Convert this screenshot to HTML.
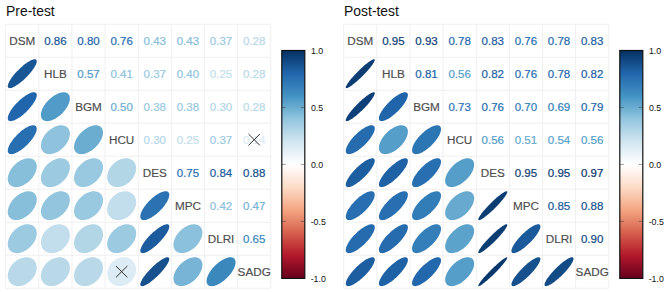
<!DOCTYPE html><html><head><meta charset="utf-8"><title>corrplot</title><style>html,body{margin:0;padding:0;background:#fff}body{width:669px;height:292px;overflow:hidden}svg{display:block}text{font-family:"Liberation Sans",sans-serif}</style></head><body>
<svg width="669" height="292" viewBox="0 0 669 292">
<rect width="100%" height="100%" fill="#fff"/>
<g>
<text x="6.10" y="15.50" font-size="13.90" fill="#111">Pre-test</text>
<line x1="5.70" y1="24.20" x2="5.70" y2="288.20" stroke="#f0f0f0" stroke-width="1"/>
<line x1="5.70" y1="24.20" x2="270.74" y2="24.20" stroke="#f0f0f0" stroke-width="1"/>
<line x1="38.83" y1="24.20" x2="38.83" y2="288.20" stroke="#f0f0f0" stroke-width="1"/>
<line x1="5.70" y1="57.20" x2="270.74" y2="57.20" stroke="#f0f0f0" stroke-width="1"/>
<line x1="71.96" y1="24.20" x2="71.96" y2="288.20" stroke="#f0f0f0" stroke-width="1"/>
<line x1="5.70" y1="90.20" x2="270.74" y2="90.20" stroke="#f0f0f0" stroke-width="1"/>
<line x1="105.09" y1="24.20" x2="105.09" y2="288.20" stroke="#f0f0f0" stroke-width="1"/>
<line x1="5.70" y1="123.20" x2="270.74" y2="123.20" stroke="#f0f0f0" stroke-width="1"/>
<line x1="138.22" y1="24.20" x2="138.22" y2="288.20" stroke="#f0f0f0" stroke-width="1"/>
<line x1="5.70" y1="156.20" x2="270.74" y2="156.20" stroke="#f0f0f0" stroke-width="1"/>
<line x1="171.35" y1="24.20" x2="171.35" y2="288.20" stroke="#f0f0f0" stroke-width="1"/>
<line x1="5.70" y1="189.20" x2="270.74" y2="189.20" stroke="#f0f0f0" stroke-width="1"/>
<line x1="204.48" y1="24.20" x2="204.48" y2="288.20" stroke="#f0f0f0" stroke-width="1"/>
<line x1="5.70" y1="222.20" x2="270.74" y2="222.20" stroke="#f0f0f0" stroke-width="1"/>
<line x1="237.61" y1="24.20" x2="237.61" y2="288.20" stroke="#f0f0f0" stroke-width="1"/>
<line x1="5.70" y1="255.20" x2="270.74" y2="255.20" stroke="#f0f0f0" stroke-width="1"/>
<line x1="270.74" y1="24.20" x2="270.74" y2="288.20" stroke="#f0f0f0" stroke-width="1"/>
<line x1="5.70" y1="288.20" x2="270.74" y2="288.20" stroke="#f0f0f0" stroke-width="1"/>
<text x="22.27" y="45.29" font-size="11.70" fill="#4d4d4d" stroke="#4d4d4d" stroke-width="0.15" text-anchor="middle">DSM</text>
<text x="55.40" y="78.29" font-size="11.70" fill="#4d4d4d" stroke="#4d4d4d" stroke-width="0.15" text-anchor="middle">HLB</text>
<text x="88.53" y="111.29" font-size="11.70" fill="#4d4d4d" stroke="#4d4d4d" stroke-width="0.15" text-anchor="middle">BGM</text>
<text x="121.66" y="144.29" font-size="11.70" fill="#4d4d4d" stroke="#4d4d4d" stroke-width="0.15" text-anchor="middle">HCU</text>
<text x="154.78" y="177.29" font-size="11.70" fill="#4d4d4d" stroke="#4d4d4d" stroke-width="0.15" text-anchor="middle">DES</text>
<text x="187.91" y="210.29" font-size="11.70" fill="#4d4d4d" stroke="#4d4d4d" stroke-width="0.15" text-anchor="middle">MPC</text>
<text x="221.05" y="243.29" font-size="11.70" fill="#4d4d4d" stroke="#4d4d4d" stroke-width="0.15" text-anchor="middle">DLRI</text>
<text x="254.18" y="276.29" font-size="11.70" fill="#4d4d4d" stroke="#4d4d4d" stroke-width="0.15" text-anchor="middle">SADG</text>
<text x="55.40" y="45.22" font-size="11.50" fill="#195696" stroke="#195696" stroke-width="0.22" text-anchor="middle">0.86</text>
<polygon points="36.24,59.78 35.86,59.50 35.36,59.33 34.77,59.26 34.09,59.31 33.31,59.47 32.45,59.73 31.52,60.10 30.51,60.58 29.44,61.15 28.31,61.82 27.14,62.59 25.93,63.43 24.70,64.35 23.44,65.35 22.18,66.41 20.92,67.52 19.66,68.68 18.43,69.88 17.23,71.11 16.06,72.36 14.94,73.61 13.88,74.87 12.88,76.12 11.95,77.35 11.11,78.56 10.34,79.72 9.67,80.84 9.09,81.91 8.62,82.91 8.24,83.85 7.98,84.70 7.82,85.48 7.77,86.16 7.83,86.75 8.01,87.24 8.29,87.62 8.67,87.90 9.17,88.07 9.76,88.14 10.44,88.09 11.22,87.93 12.08,87.67 13.01,87.30 14.02,86.82 15.09,86.25 16.22,85.58 17.39,84.81 18.60,83.97 19.83,83.05 21.09,82.05 22.35,80.99 23.61,79.88 24.87,78.72 26.10,77.52 27.30,76.29 28.47,75.04 29.59,73.79 30.65,72.53 31.65,71.28 32.58,70.05 33.42,68.84 34.19,67.68 34.86,66.56 35.44,65.49 35.91,64.49 36.29,63.55 36.55,62.70 36.71,61.92 36.76,61.24 36.70,60.65 36.52,60.16" fill="#195696"/>
<text x="88.53" y="45.22" font-size="11.50" fill="#2166ac" stroke="#2166ac" stroke-width="0.22" text-anchor="middle">0.80</text>
<polygon points="36.02,93.00 35.56,92.66 35.01,92.42 34.36,92.29 33.62,92.27 32.79,92.36 31.88,92.56 30.90,92.86 29.85,93.27 28.75,93.79 27.59,94.40 26.40,95.10 25.17,95.90 23.92,96.77 22.66,97.73 21.40,98.75 20.14,99.83 18.90,100.96 17.68,102.13 16.50,103.35 15.36,104.58 14.28,105.83 13.25,107.09 12.30,108.35 11.42,109.59 10.62,110.82 9.92,112.01 9.30,113.16 8.79,114.26 8.37,115.30 8.06,116.28 7.87,117.18 7.78,118.01 7.80,118.75 7.93,119.40 8.17,119.95 8.51,120.40 8.97,120.74 9.52,120.98 10.17,121.11 10.91,121.13 11.74,121.04 12.65,120.84 13.63,120.54 14.68,120.13 15.78,119.61 16.94,119.00 18.13,118.30 19.36,117.50 20.61,116.63 21.87,115.67 23.13,114.65 24.39,113.57 25.63,112.44 26.85,111.27 28.03,110.05 29.17,108.82 30.25,107.57 31.28,106.31 32.23,105.05 33.11,103.81 33.91,102.58 34.61,101.39 35.23,100.24 35.74,99.14 36.16,98.10 36.47,97.12 36.66,96.22 36.75,95.39 36.73,94.65 36.60,94.00 36.36,93.45" fill="#2166ac"/>
<text x="121.66" y="45.22" font-size="11.50" fill="#286fb1" stroke="#286fb1" stroke-width="0.22" text-anchor="middle">0.76</text>
<polygon points="35.86,126.16 35.37,125.77 34.78,125.49 34.10,125.32 33.32,125.26 32.47,125.31 31.53,125.47 30.52,125.74 29.45,126.11 28.33,126.59 27.16,127.16 25.95,127.83 24.72,128.60 23.46,129.44 22.20,130.37 20.93,131.36 19.68,132.42 18.45,133.54 17.24,134.70 16.08,135.90 14.96,137.13 13.90,138.37 12.90,139.63 11.97,140.89 11.12,142.14 10.35,143.37 9.68,144.57 9.10,145.74 8.62,146.86 8.25,147.93 7.98,148.93 7.82,149.86 7.77,150.72 7.83,151.49 8.00,152.17 8.28,152.76 8.67,153.24 9.16,153.63 9.75,153.91 10.43,154.08 11.21,154.14 12.06,154.09 13.00,153.93 14.01,153.66 15.08,153.29 16.20,152.81 17.37,152.24 18.58,151.57 19.81,150.80 21.07,149.96 22.33,149.03 23.60,148.04 24.85,146.98 26.08,145.86 27.29,144.70 28.45,143.50 29.57,142.27 30.63,141.03 31.63,139.77 32.56,138.51 33.41,137.26 34.18,136.03 34.85,134.83 35.43,133.66 35.91,132.54 36.28,131.47 36.55,130.47 36.71,129.54 36.76,128.68 36.70,127.91 36.53,127.23 36.25,126.64" fill="#286fb1"/>
<text x="154.78" y="45.22" font-size="11.50" fill="#87beda" stroke="#87beda" stroke-width="0.22" text-anchor="middle">0.43</text>
<polygon points="34.52,160.49 33.80,159.87 32.99,159.34 32.10,158.91 31.14,158.59 30.10,158.38 29.01,158.27 27.87,158.28 26.68,158.39 25.46,158.62 24.22,158.95 22.96,159.38 21.69,159.92 20.43,160.56 19.19,161.28 17.96,162.10 16.77,162.99 15.62,163.96 14.53,164.99 13.49,166.09 12.52,167.23 11.62,168.41 10.80,169.63 10.07,170.87 9.44,172.13 8.90,173.39 8.46,174.64 8.13,175.88 7.90,177.10 7.79,178.28 7.78,179.42 7.89,180.51 8.10,181.54 8.42,182.50 8.85,183.38 9.38,184.19 10.01,184.91 10.73,185.53 11.54,186.06 12.43,186.49 13.39,186.81 14.43,187.02 15.52,187.13 16.66,187.12 17.85,187.01 19.07,186.78 20.31,186.45 21.57,186.02 22.84,185.48 24.10,184.84 25.34,184.12 26.57,183.30 27.76,182.41 28.91,181.44 30.00,180.41 31.04,179.31 32.01,178.17 32.91,176.99 33.73,175.77 34.46,174.53 35.09,173.27 35.63,172.01 36.07,170.76 36.40,169.52 36.63,168.30 36.74,167.12 36.75,165.98 36.64,164.89 36.43,163.86 36.11,162.90 35.68,162.02 35.15,161.21" fill="#87beda"/>
<text x="187.91" y="45.22" font-size="11.50" fill="#87beda" stroke="#87beda" stroke-width="0.22" text-anchor="middle">0.43</text>
<polygon points="34.52,193.49 33.80,192.87 32.99,192.34 32.10,191.91 31.14,191.59 30.10,191.38 29.01,191.27 27.87,191.28 26.68,191.39 25.46,191.62 24.22,191.95 22.96,192.38 21.69,192.92 20.43,193.56 19.19,194.28 17.96,195.10 16.77,195.99 15.62,196.96 14.53,197.99 13.49,199.09 12.52,200.23 11.62,201.41 10.80,202.63 10.07,203.87 9.44,205.13 8.90,206.39 8.46,207.64 8.13,208.88 7.90,210.10 7.79,211.28 7.78,212.42 7.89,213.51 8.10,214.54 8.42,215.50 8.85,216.38 9.38,217.19 10.01,217.91 10.73,218.53 11.54,219.06 12.43,219.49 13.39,219.81 14.43,220.02 15.52,220.13 16.66,220.12 17.85,220.01 19.07,219.78 20.31,219.45 21.57,219.02 22.84,218.48 24.10,217.84 25.34,217.12 26.57,216.30 27.76,215.41 28.91,214.44 30.00,213.41 31.04,212.31 32.01,211.17 32.91,209.99 33.73,208.77 34.46,207.53 35.09,206.27 35.63,205.01 36.07,203.76 36.40,202.52 36.63,201.30 36.74,200.12 36.75,198.98 36.64,197.89 36.43,196.86 36.11,195.90 35.68,195.02 35.15,194.21" fill="#87beda"/>
<text x="221.05" y="45.22" font-size="11.50" fill="#9ccae1" stroke="#9ccae1" stroke-width="0.22" text-anchor="middle">0.37</text>
<polygon points="34.26,226.75 33.51,226.09 32.67,225.53 31.75,225.06 30.76,224.70 29.70,224.45 28.59,224.30 27.43,224.26 26.23,224.34 25.00,224.52 23.74,224.81 22.48,225.21 21.22,225.71 19.96,226.31 18.72,227.00 17.51,227.78 16.34,228.65 15.21,229.59 14.13,230.60 13.12,231.67 12.17,232.80 11.30,233.97 10.52,235.17 9.82,236.41 9.22,237.66 8.72,238.92 8.32,240.17 8.03,241.42 7.85,242.65 7.77,243.84 7.81,245.00 7.95,246.11 8.21,247.16 8.57,248.14 9.04,249.06 9.61,249.90 10.27,250.65 11.02,251.31 11.86,251.87 12.78,252.34 13.77,252.70 14.83,252.95 15.94,253.10 17.10,253.14 18.30,253.06 19.53,252.88 20.79,252.59 22.05,252.19 23.31,251.69 24.57,251.09 25.81,250.40 27.02,249.62 28.19,248.75 29.32,247.81 30.40,246.80 31.41,245.73 32.36,244.60 33.23,243.43 34.01,242.23 34.71,240.99 35.31,239.74 35.81,238.48 36.21,237.23 36.50,235.98 36.68,234.75 36.76,233.56 36.72,232.40 36.58,231.29 36.32,230.24 35.96,229.26 35.49,228.34 34.92,227.50" fill="#9ccae1"/>
<text x="254.18" y="45.22" font-size="11.50" fill="#b9d9e9" stroke="#b9d9e9" stroke-width="0.22" text-anchor="middle">0.28</text>
<polygon points="33.86,260.15 33.06,259.44 32.17,258.82 31.21,258.30 30.19,257.88 29.10,257.57 27.96,257.37 26.78,257.27 25.56,257.28 24.31,257.41 23.06,257.64 21.79,257.98 20.53,258.42 19.28,258.97 18.06,259.61 16.87,260.34 15.71,261.16 14.61,262.06 13.57,263.04 12.59,264.08 11.69,265.17 10.86,266.32 10.13,267.51 9.48,268.73 8.94,269.97 8.49,271.23 8.15,272.49 7.92,273.74 7.79,274.98 7.78,276.19 7.87,277.37 8.08,278.51 8.39,279.59 8.81,280.61 9.34,281.57 9.96,282.45 10.67,283.25 11.47,283.96 12.36,284.58 13.32,285.10 14.34,285.52 15.43,285.83 16.57,286.03 17.75,286.13 18.97,286.12 20.22,285.99 21.47,285.76 22.74,285.42 24.00,284.98 25.25,284.43 26.47,283.79 27.66,283.06 28.82,282.24 29.92,281.34 30.96,280.36 31.94,279.32 32.84,278.23 33.67,277.08 34.40,275.89 35.05,274.67 35.59,273.43 36.04,272.17 36.38,270.91 36.61,269.66 36.74,268.42 36.75,267.21 36.66,266.03 36.45,264.89 36.14,263.81 35.72,262.79 35.19,261.83 34.57,260.95" fill="#b9d9e9"/>
<text x="88.53" y="78.22" font-size="11.50" fill="#509bc7" stroke="#509bc7" stroke-width="0.22" text-anchor="middle">0.57</text>
<polygon points="68.24,93.91 67.60,93.37 66.87,92.94 66.06,92.61 65.16,92.39 64.19,92.28 63.16,92.27 62.06,92.38 60.91,92.60 59.72,92.92 58.50,93.35 57.26,93.88 56.00,94.51 54.73,95.23 53.47,96.03 52.23,96.92 51.01,97.89 49.82,98.92 48.67,100.01 47.58,101.15 46.55,102.33 45.58,103.54 44.69,104.78 43.88,106.04 43.15,107.30 42.52,108.55 41.99,109.79 41.56,111.01 41.24,112.20 41.02,113.34 40.91,114.43 40.92,115.46 41.03,116.43 41.25,117.32 41.58,118.13 42.02,118.86 42.55,119.49 43.19,120.03 43.92,120.46 44.73,120.79 45.63,121.01 46.60,121.12 47.63,121.13 48.73,121.02 49.88,120.80 51.07,120.48 52.29,120.05 53.53,119.52 54.79,118.89 56.06,118.17 57.32,117.37 58.56,116.48 59.78,115.51 60.97,114.48 62.12,113.39 63.21,112.25 64.24,111.07 65.21,109.86 66.10,108.62 66.91,107.36 67.64,106.10 68.27,104.85 68.80,103.61 69.23,102.39 69.55,101.20 69.77,100.06 69.88,98.97 69.87,97.94 69.76,96.97 69.54,96.08 69.21,95.27 68.77,94.54" fill="#509bc7"/>
<text x="121.66" y="78.22" font-size="11.50" fill="#8fc3dd" stroke="#8fc3dd" stroke-width="0.22" text-anchor="middle">0.41</text>
<polygon points="67.57,127.58 66.83,126.94 66.01,126.40 65.11,125.96 64.14,125.63 63.10,125.40 62.00,125.28 60.85,125.27 59.66,125.37 58.43,125.58 57.19,125.90 55.93,126.32 54.66,126.85 53.40,127.47 52.16,128.19 50.94,128.99 49.76,129.87 48.61,130.83 47.52,131.86 46.49,132.94 45.53,134.08 44.64,135.26 43.83,136.48 43.12,137.72 42.49,138.97 41.97,140.23 41.54,141.49 41.22,142.73 41.01,143.95 40.91,145.13 40.92,146.28 41.04,147.37 41.27,148.41 41.60,149.38 42.04,150.28 42.59,151.09 43.22,151.82 43.96,152.46 44.78,153.00 45.68,153.44 46.65,153.77 47.69,154.00 48.79,154.12 49.94,154.13 51.13,154.03 52.36,153.82 53.60,153.50 54.86,153.08 56.13,152.55 57.39,151.93 58.63,151.21 59.85,150.41 61.03,149.53 62.18,148.57 63.27,147.54 64.30,146.46 65.26,145.32 66.15,144.14 66.96,142.92 67.67,141.68 68.30,140.43 68.82,139.17 69.25,137.91 69.57,136.67 69.78,135.45 69.88,134.27 69.87,133.12 69.75,132.03 69.52,130.99 69.19,130.02 68.75,129.12 68.20,128.31" fill="#8fc3dd"/>
<text x="154.78" y="78.22" font-size="11.50" fill="#9ccae1" stroke="#9ccae1" stroke-width="0.22" text-anchor="middle">0.37</text>
<polygon points="67.39,160.75 66.64,160.09 65.80,159.53 64.88,159.06 63.89,158.70 62.83,158.45 61.72,158.30 60.56,158.26 59.36,158.34 58.13,158.52 56.87,158.81 55.61,159.21 54.35,159.71 53.09,160.31 51.85,161.00 50.64,161.78 49.47,162.65 48.34,163.59 47.26,164.60 46.25,165.67 45.30,166.80 44.43,167.97 43.65,169.17 42.95,170.41 42.35,171.66 41.85,172.92 41.45,174.17 41.16,175.42 40.98,176.65 40.90,177.84 40.94,179.00 41.08,180.11 41.34,181.16 41.70,182.14 42.17,183.06 42.74,183.90 43.40,184.65 44.15,185.31 44.99,185.87 45.91,186.34 46.90,186.70 47.96,186.95 49.07,187.10 50.23,187.14 51.43,187.06 52.66,186.88 53.92,186.59 55.18,186.19 56.44,185.69 57.70,185.09 58.94,184.40 60.15,183.62 61.32,182.75 62.45,181.81 63.53,180.80 64.54,179.73 65.49,178.60 66.36,177.43 67.14,176.23 67.84,174.99 68.44,173.74 68.94,172.48 69.34,171.23 69.63,169.98 69.81,168.75 69.89,167.56 69.85,166.40 69.71,165.29 69.45,164.24 69.09,163.26 68.62,162.34 68.05,161.50" fill="#9ccae1"/>
<text x="187.91" y="78.22" font-size="11.50" fill="#93c5de" stroke="#93c5de" stroke-width="0.22" text-anchor="middle">0.40</text>
<polygon points="67.52,193.62 66.78,192.98 65.96,192.43 65.05,191.99 64.08,191.64 63.03,191.41 61.93,191.29 60.78,191.27 59.58,191.36 58.36,191.57 57.11,191.88 55.85,192.29 54.58,192.81 53.32,193.43 52.08,194.14 50.87,194.94 49.68,195.81 48.54,196.77 47.46,197.79 46.43,198.88 45.47,200.01 44.59,201.19 43.79,202.40 43.07,203.64 42.46,204.89 41.94,206.15 41.52,207.41 41.21,208.65 41.00,209.87 40.91,211.06 40.92,212.21 41.05,213.31 41.28,214.35 41.63,215.32 42.07,216.22 42.62,217.04 43.27,217.78 44.01,218.42 44.83,218.97 45.74,219.41 46.71,219.76 47.76,219.99 48.86,220.11 50.01,220.13 51.21,220.04 52.43,219.83 53.68,219.52 54.94,219.11 56.21,218.59 57.47,217.97 58.71,217.26 59.92,216.46 61.11,215.59 62.25,214.63 63.33,213.61 64.36,212.52 65.32,211.39 66.20,210.21 67.00,209.00 67.72,207.76 68.33,206.51 68.85,205.25 69.27,203.99 69.58,202.75 69.79,201.53 69.88,200.34 69.87,199.19 69.74,198.09 69.51,197.05 69.16,196.08 68.72,195.18 68.17,194.36" fill="#93c5de"/>
<text x="221.05" y="78.22" font-size="11.50" fill="#c2deec" stroke="#c2deec" stroke-width="0.22" text-anchor="middle">0.25</text>
<polygon points="66.85,227.29 66.04,226.56 65.14,225.92 64.17,225.39 63.13,224.95 62.03,224.62 60.88,224.39 59.69,224.28 58.47,224.27 57.22,224.38 55.96,224.59 54.70,224.91 53.44,225.34 52.19,225.86 50.97,226.49 49.79,227.21 48.64,228.01 47.55,228.90 46.52,229.86 45.55,230.89 44.66,231.98 43.86,233.11 43.14,234.30 42.51,235.51 41.98,236.75 41.55,238.00 41.23,239.26 41.02,240.52 40.91,241.76 40.92,242.98 41.03,244.16 41.26,245.31 41.59,246.40 42.03,247.44 42.57,248.41 43.21,249.30 43.94,250.11 44.75,250.84 45.65,251.48 46.62,252.01 47.66,252.45 48.76,252.78 49.91,253.01 51.10,253.12 52.32,253.13 53.57,253.02 54.83,252.81 56.09,252.49 57.35,252.06 58.60,251.54 59.82,250.91 61.00,250.19 62.15,249.39 63.24,248.50 64.27,247.54 65.24,246.51 66.13,245.42 66.93,244.29 67.65,243.10 68.28,241.89 68.81,240.65 69.24,239.40 69.56,238.14 69.77,236.88 69.88,235.64 69.87,234.42 69.76,233.24 69.53,232.09 69.20,231.00 68.76,229.96 68.22,228.99 67.58,228.10" fill="#c2deec"/>
<text x="254.18" y="78.22" font-size="11.50" fill="#b9d9e9" stroke="#b9d9e9" stroke-width="0.22" text-anchor="middle">0.28</text>
<polygon points="66.99,260.15 66.19,259.44 65.30,258.82 64.34,258.30 63.32,257.88 62.23,257.57 61.09,257.37 59.91,257.27 58.69,257.28 57.44,257.41 56.19,257.64 54.92,257.98 53.66,258.42 52.41,258.97 51.19,259.61 50.00,260.34 48.84,261.16 47.74,262.06 46.70,263.04 45.72,264.08 44.82,265.17 43.99,266.32 43.26,267.51 42.61,268.73 42.07,269.97 41.62,271.23 41.28,272.49 41.05,273.74 40.92,274.98 40.91,276.19 41.00,277.37 41.21,278.51 41.52,279.59 41.94,280.61 42.47,281.57 43.09,282.45 43.80,283.25 44.60,283.96 45.49,284.58 46.45,285.10 47.47,285.52 48.56,285.83 49.70,286.03 50.88,286.13 52.10,286.12 53.35,285.99 54.60,285.76 55.87,285.42 57.13,284.98 58.38,284.43 59.60,283.79 60.79,283.06 61.95,282.24 63.05,281.34 64.09,280.36 65.07,279.32 65.97,278.23 66.80,277.08 67.53,275.89 68.18,274.67 68.72,273.43 69.17,272.17 69.51,270.91 69.74,269.66 69.87,268.42 69.88,267.21 69.79,266.03 69.58,264.89 69.27,263.81 68.85,262.79 68.32,261.83 67.70,260.95" fill="#b9d9e9"/>
<text x="121.66" y="111.22" font-size="11.50" fill="#6badd1" stroke="#6badd1" stroke-width="0.22" text-anchor="middle">0.50</text>
<polygon points="101.08,127.20 100.40,126.62 99.63,126.13 98.77,125.75 97.84,125.48 96.84,125.32 95.77,125.26 94.65,125.32 93.48,125.48 92.28,125.75 91.04,126.13 89.79,126.62 88.53,127.20 87.26,127.87 86.01,128.64 84.77,129.49 83.57,130.42 82.40,131.42 81.28,132.48 80.21,133.60 79.21,134.76 78.28,135.96 77.42,137.19 76.65,138.44 75.97,139.70 75.39,140.96 74.90,142.21 74.52,143.44 74.25,144.64 74.09,145.80 74.03,146.92 74.09,147.98 74.25,148.98 74.52,149.91 74.90,150.76 75.39,151.53 75.97,152.20 76.65,152.78 77.42,153.27 78.28,153.65 79.21,153.92 80.21,154.08 81.28,154.14 82.40,154.08 83.57,153.92 84.77,153.65 86.01,153.27 87.26,152.78 88.53,152.20 89.79,151.53 91.04,150.76 92.28,149.91 93.48,148.98 94.65,147.98 95.77,146.92 96.84,145.80 97.84,144.64 98.77,143.44 99.63,142.21 100.40,140.96 101.08,139.70 101.66,138.44 102.15,137.19 102.53,135.96 102.80,134.76 102.96,133.60 103.02,132.48 102.96,131.42 102.80,130.42 102.53,129.49 102.15,128.64 101.66,127.87" fill="#6badd1"/>
<text x="154.78" y="111.22" font-size="11.50" fill="#99c9e0" stroke="#99c9e0" stroke-width="0.22" text-anchor="middle">0.38</text>
<polygon points="100.56,160.71 99.82,160.05 98.98,159.49 98.07,159.04 97.08,158.68 96.03,158.43 94.92,158.29 93.76,158.27 92.56,158.35 91.33,158.54 90.08,158.83 88.82,159.24 87.56,159.74 86.30,160.35 85.06,161.04 83.85,161.83 82.67,162.70 81.53,163.65 80.45,164.66 79.44,165.74 78.49,166.87 77.61,168.04 76.82,169.25 76.12,170.48 75.52,171.73 75.01,172.99 74.60,174.25 74.31,175.50 74.11,176.72 74.03,177.91 74.06,179.07 74.20,180.17 74.45,181.22 74.81,182.20 75.27,183.11 75.83,183.95 76.49,184.69 77.23,185.35 78.07,185.91 78.98,186.36 79.97,186.72 81.02,186.97 82.13,187.11 83.29,187.13 84.49,187.05 85.72,186.86 86.97,186.57 88.23,186.16 89.49,185.66 90.75,185.05 91.99,184.36 93.20,183.57 94.38,182.70 95.52,181.75 96.60,180.74 97.61,179.66 98.56,178.53 99.44,177.36 100.23,176.15 100.93,174.92 101.53,173.67 102.04,172.41 102.45,171.15 102.74,169.90 102.94,168.68 103.02,167.49 102.99,166.33 102.85,165.23 102.60,164.18 102.24,163.20 101.78,162.29 101.22,161.45" fill="#99c9e0"/>
<text x="187.91" y="111.22" font-size="11.50" fill="#99c9e0" stroke="#99c9e0" stroke-width="0.22" text-anchor="middle">0.38</text>
<polygon points="100.56,193.71 99.82,193.05 98.98,192.49 98.07,192.04 97.08,191.68 96.03,191.43 94.92,191.29 93.76,191.27 92.56,191.35 91.33,191.54 90.08,191.83 88.82,192.24 87.56,192.74 86.30,193.35 85.06,194.04 83.85,194.83 82.67,195.70 81.53,196.65 80.45,197.66 79.44,198.74 78.49,199.87 77.61,201.04 76.82,202.25 76.12,203.48 75.52,204.73 75.01,205.99 74.60,207.25 74.31,208.50 74.11,209.72 74.03,210.91 74.06,212.07 74.20,213.17 74.45,214.22 74.81,215.20 75.27,216.11 75.83,216.95 76.49,217.69 77.23,218.35 78.07,218.91 78.98,219.36 79.97,219.72 81.02,219.97 82.13,220.11 83.29,220.13 84.49,220.05 85.72,219.86 86.97,219.57 88.23,219.16 89.49,218.66 90.75,218.05 91.99,217.36 93.20,216.57 94.38,215.70 95.52,214.75 96.60,213.74 97.61,212.66 98.56,211.53 99.44,210.36 100.23,209.15 100.93,207.92 101.53,206.67 102.04,205.41 102.45,204.15 102.74,202.90 102.94,201.68 103.02,200.49 102.99,199.33 102.85,198.23 102.60,197.18 102.24,196.20 101.78,195.29 101.22,194.45" fill="#99c9e0"/>
<text x="221.05" y="111.22" font-size="11.50" fill="#b3d6e7" stroke="#b3d6e7" stroke-width="0.22" text-anchor="middle">0.30</text>
<polygon points="100.21,227.06 99.42,226.36 98.54,225.75 97.59,225.25 96.57,224.84 95.49,224.54 94.36,224.35 93.18,224.27 91.96,224.29 90.72,224.43 89.47,224.67 88.20,225.03 86.94,225.48 85.69,226.04 84.46,226.69 83.27,227.44 82.11,228.27 81.00,229.18 79.95,230.16 78.96,231.21 78.05,232.31 77.22,233.46 76.47,234.65 75.81,235.88 75.26,237.12 74.80,238.38 74.44,239.64 74.20,240.89 74.06,242.13 74.03,243.34 74.12,244.51 74.31,245.64 74.61,246.72 75.02,247.73 75.53,248.68 76.14,249.55 76.84,250.34 77.63,251.04 78.51,251.65 79.46,252.15 80.48,252.56 81.56,252.86 82.69,253.05 83.87,253.13 85.09,253.11 86.33,252.97 87.58,252.73 88.85,252.37 90.11,251.92 91.36,251.36 92.59,250.71 93.78,249.96 94.94,249.13 96.05,248.22 97.10,247.24 98.09,246.19 99.00,245.09 99.83,243.94 100.58,242.75 101.24,241.52 101.79,240.28 102.25,239.02 102.61,237.76 102.85,236.51 102.99,235.27 103.02,234.06 102.93,232.89 102.74,231.76 102.44,230.68 102.03,229.67 101.52,228.72 100.91,227.85" fill="#b3d6e7"/>
<text x="254.18" y="111.22" font-size="11.50" fill="#b9d9e9" stroke="#b9d9e9" stroke-width="0.22" text-anchor="middle">0.28</text>
<polygon points="100.12,260.15 99.32,259.44 98.43,258.82 97.47,258.30 96.45,257.88 95.36,257.57 94.22,257.37 93.04,257.27 91.82,257.28 90.57,257.41 89.32,257.64 88.05,257.98 86.79,258.42 85.54,258.97 84.32,259.61 83.13,260.34 81.97,261.16 80.87,262.06 79.83,263.04 78.85,264.08 77.95,265.17 77.12,266.32 76.39,267.51 75.74,268.73 75.20,269.97 74.75,271.23 74.41,272.49 74.18,273.74 74.05,274.98 74.04,276.19 74.13,277.37 74.34,278.51 74.65,279.59 75.07,280.61 75.60,281.57 76.22,282.45 76.93,283.25 77.73,283.96 78.62,284.58 79.58,285.10 80.60,285.52 81.69,285.83 82.83,286.03 84.01,286.13 85.23,286.12 86.48,285.99 87.73,285.76 89.00,285.42 90.26,284.98 91.51,284.43 92.73,283.79 93.92,283.06 95.08,282.24 96.18,281.34 97.22,280.36 98.20,279.32 99.10,278.23 99.93,277.08 100.66,275.89 101.31,274.67 101.85,273.43 102.30,272.17 102.64,270.91 102.87,269.66 103.00,268.42 103.01,267.21 102.92,266.03 102.71,264.89 102.40,263.81 101.98,262.79 101.45,261.83 100.83,260.95" fill="#b9d9e9"/>
<text x="154.78" y="144.22" font-size="11.50" fill="#b3d6e7" stroke="#b3d6e7" stroke-width="0.22" text-anchor="middle">0.30</text>
<polygon points="133.34,161.06 132.55,160.36 131.67,159.75 130.72,159.25 129.70,158.84 128.62,158.54 127.49,158.35 126.31,158.27 125.09,158.29 123.85,158.43 122.60,158.67 121.33,159.03 120.07,159.48 118.82,160.04 117.59,160.69 116.40,161.44 115.24,162.27 114.13,163.18 113.08,164.16 112.09,165.21 111.18,166.31 110.35,167.46 109.60,168.65 108.94,169.88 108.39,171.12 107.93,172.38 107.57,173.64 107.33,174.89 107.19,176.13 107.16,177.34 107.25,178.51 107.44,179.64 107.74,180.72 108.15,181.73 108.66,182.68 109.27,183.55 109.97,184.34 110.76,185.04 111.64,185.65 112.59,186.15 113.61,186.56 114.69,186.86 115.82,187.05 117.00,187.13 118.22,187.11 119.46,186.97 120.71,186.73 121.98,186.37 123.24,185.92 124.49,185.36 125.72,184.71 126.91,183.96 128.07,183.13 129.18,182.22 130.23,181.24 131.22,180.19 132.13,179.09 132.96,177.94 133.71,176.75 134.37,175.52 134.92,174.28 135.38,173.02 135.74,171.76 135.98,170.51 136.12,169.27 136.15,168.06 136.06,166.89 135.87,165.76 135.57,164.68 135.16,163.67 134.65,162.72 134.04,161.85" fill="#b3d6e7"/>
<text x="187.91" y="144.22" font-size="11.50" fill="#c2deec" stroke="#c2deec" stroke-width="0.22" text-anchor="middle">0.25</text>
<polygon points="133.11,194.29 132.30,193.56 131.40,192.92 130.43,192.39 129.39,191.95 128.29,191.62 127.14,191.39 125.95,191.28 124.73,191.27 123.48,191.38 122.22,191.59 120.96,191.91 119.70,192.34 118.45,192.86 117.23,193.49 116.05,194.21 114.90,195.01 113.81,195.90 112.78,196.86 111.81,197.89 110.92,198.98 110.12,200.11 109.40,201.30 108.77,202.51 108.24,203.75 107.81,205.00 107.49,206.26 107.28,207.52 107.17,208.76 107.18,209.98 107.29,211.16 107.52,212.31 107.85,213.40 108.29,214.44 108.83,215.41 109.47,216.30 110.20,217.11 111.01,217.84 111.91,218.48 112.88,219.01 113.92,219.45 115.02,219.78 116.17,220.01 117.36,220.12 118.58,220.13 119.83,220.02 121.09,219.81 122.35,219.49 123.61,219.06 124.86,218.54 126.08,217.91 127.26,217.19 128.41,216.39 129.50,215.50 130.53,214.54 131.50,213.51 132.39,212.42 133.19,211.29 133.91,210.10 134.54,208.89 135.07,207.65 135.50,206.40 135.82,205.14 136.03,203.88 136.14,202.64 136.13,201.42 136.02,200.24 135.79,199.09 135.46,198.00 135.02,196.96 134.48,195.99 133.84,195.10" fill="#c2deec"/>
<text x="221.05" y="144.22" font-size="11.50" fill="#9ccae1" stroke="#9ccae1" stroke-width="0.22" text-anchor="middle">0.37</text>
<polygon points="133.65,226.75 132.90,226.09 132.06,225.53 131.14,225.06 130.15,224.70 129.09,224.45 127.98,224.30 126.82,224.26 125.62,224.34 124.39,224.52 123.13,224.81 121.87,225.21 120.61,225.71 119.35,226.31 118.11,227.00 116.90,227.78 115.73,228.65 114.60,229.59 113.52,230.60 112.51,231.67 111.56,232.80 110.69,233.97 109.91,235.17 109.21,236.41 108.61,237.66 108.11,238.92 107.71,240.17 107.42,241.42 107.24,242.65 107.16,243.84 107.20,245.00 107.34,246.11 107.60,247.16 107.96,248.14 108.43,249.06 109.00,249.90 109.66,250.65 110.41,251.31 111.25,251.87 112.17,252.34 113.16,252.70 114.22,252.95 115.33,253.10 116.49,253.14 117.69,253.06 118.92,252.88 120.18,252.59 121.44,252.19 122.70,251.69 123.96,251.09 125.20,250.40 126.41,249.62 127.58,248.75 128.71,247.81 129.79,246.80 130.80,245.73 131.75,244.60 132.62,243.43 133.40,242.23 134.10,240.99 134.70,239.74 135.20,238.48 135.60,237.23 135.89,235.98 136.07,234.75 136.15,233.56 136.11,232.40 135.97,231.29 135.71,230.24 135.35,229.26 134.88,228.34 134.31,227.50" fill="#9ccae1"/>
<text x="254.18" y="144.22" font-size="11.50" fill="#ddecf4" stroke="#ddecf4" stroke-width="0.22" text-anchor="middle">0.14</text>
<polygon points="132.60,260.80 131.73,260.02 130.78,259.32 129.77,258.72 128.69,258.22 127.56,257.82 126.38,257.53 125.17,257.34 123.93,257.26 122.67,257.30 121.41,257.44 120.15,257.69 118.90,258.05 117.67,258.51 116.47,259.08 115.31,259.73 114.20,260.48 113.14,261.32 112.15,262.23 111.23,263.22 110.39,264.27 109.64,265.38 108.98,266.53 108.42,267.73 107.95,268.95 107.59,270.20 107.34,271.45 107.20,272.71 107.16,273.96 107.24,275.20 107.43,276.41 107.72,277.58 108.12,278.70 108.62,279.78 109.23,280.79 109.93,281.73 110.71,282.60 111.58,283.38 112.53,284.08 113.54,284.68 114.62,285.18 115.75,285.58 116.93,285.87 118.14,286.06 119.38,286.14 120.64,286.10 121.90,285.96 123.16,285.71 124.41,285.35 125.64,284.89 126.84,284.32 128.00,283.67 129.11,282.92 130.17,282.08 131.16,281.17 132.08,280.18 132.92,279.13 133.67,278.02 134.33,276.87 134.89,275.67 135.36,274.45 135.72,273.20 135.97,271.95 136.11,270.69 136.15,269.44 136.07,268.20 135.88,266.99 135.59,265.82 135.19,264.70 134.69,263.62 134.08,262.61 133.38,261.67" fill="#ddecf4"/>
<path d="M248.48 134.00L259.88 145.40M248.48 145.40L259.88 134.00" stroke="#333" stroke-width="1" fill="none"/>
<path d="M115.96 266.00L127.36 277.40M115.96 277.40L127.36 266.00" stroke="#333" stroke-width="1" fill="none"/>
<text x="187.91" y="177.22" font-size="11.50" fill="#2a72b2" stroke="#2a72b2" stroke-width="0.22" text-anchor="middle">0.75</text>
<polygon points="168.34,192.19 167.85,191.80 167.25,191.51 166.55,191.33 165.77,191.26 164.91,191.30 163.96,191.45 162.95,191.71 161.88,192.07 160.75,192.54 159.57,193.11 158.36,193.77 157.13,194.53 155.87,195.37 154.61,196.28 153.34,197.27 152.09,198.33 150.86,199.44 149.66,200.60 148.50,201.79 147.38,203.02 146.33,204.26 145.33,205.52 144.41,206.78 143.57,208.03 142.81,209.26 142.14,210.47 141.57,211.64 141.10,212.76 140.74,213.83 140.48,214.84 140.33,215.78 140.29,216.64 140.36,217.42 140.54,218.11 140.83,218.71 141.23,219.21 141.72,219.60 142.32,219.89 143.02,220.07 143.80,220.14 144.66,220.10 145.61,219.95 146.62,219.69 147.69,219.33 148.82,218.86 150.00,218.29 151.21,217.63 152.44,216.87 153.70,216.03 154.96,215.12 156.23,214.13 157.48,213.07 158.71,211.96 159.91,210.80 161.07,209.61 162.19,208.38 163.24,207.14 164.24,205.88 165.16,204.62 166.00,203.37 166.76,202.14 167.43,200.93 168.00,199.76 168.47,198.64 168.83,197.57 169.09,196.56 169.24,195.62 169.28,194.76 169.21,193.98 169.03,193.29 168.74,192.69" fill="#2a72b2"/>
<text x="221.05" y="177.22" font-size="11.50" fill="#1c5b9d" stroke="#1c5b9d" stroke-width="0.22" text-anchor="middle">0.84</text>
<polygon points="168.69,224.85 168.28,224.55 167.76,224.35 167.15,224.27 166.45,224.29 165.65,224.42 164.78,224.67 163.82,225.01 162.80,225.47 161.72,226.02 160.58,226.67 159.40,227.41 158.19,228.24 156.94,229.15 155.69,230.13 154.42,231.17 153.16,232.27 151.91,233.43 150.69,234.62 149.49,235.84 148.33,237.08 147.23,238.34 146.18,239.60 145.19,240.85 144.28,242.09 143.45,243.30 142.71,244.47 142.06,245.60 141.50,246.68 141.05,247.70 140.70,248.65 140.45,249.52 140.32,250.32 140.30,251.02 140.38,251.63 140.58,252.14 140.88,252.55 141.29,252.85 141.81,253.05 142.42,253.13 143.12,253.11 143.92,252.98 144.79,252.73 145.75,252.39 146.77,251.93 147.85,251.38 148.99,250.73 150.17,249.99 151.38,249.16 152.63,248.25 153.88,247.27 155.15,246.23 156.41,245.13 157.66,243.97 158.88,242.78 160.08,241.56 161.24,240.32 162.34,239.06 163.39,237.80 164.38,236.55 165.29,235.31 166.12,234.10 166.86,232.93 167.51,231.80 168.07,230.72 168.52,229.70 168.87,228.75 169.12,227.88 169.25,227.08 169.27,226.38 169.19,225.77 168.99,225.26" fill="#1c5b9d"/>
<text x="254.18" y="177.22" font-size="11.50" fill="#16518e" stroke="#16518e" stroke-width="0.22" text-anchor="middle">0.88</text>
<polygon points="168.84,257.70 168.47,257.45 168.01,257.30 167.44,257.26 166.78,257.34 166.02,257.52 165.18,257.81 164.26,258.21 163.27,258.70 162.21,259.30 161.10,259.99 159.94,260.77 158.74,261.64 157.51,262.58 156.26,263.59 154.99,264.66 153.73,265.79 152.47,266.96 151.23,268.16 150.02,269.40 148.85,270.65 147.72,271.91 146.64,273.16 145.63,274.41 144.68,275.64 143.82,276.83 143.03,277.99 142.34,279.10 141.74,280.15 141.24,281.14 140.84,282.05 140.55,282.89 140.37,283.64 140.29,284.31 140.33,284.87 140.48,285.34 140.73,285.70 141.10,285.95 141.56,286.10 142.13,286.14 142.79,286.06 143.55,285.88 144.39,285.59 145.31,285.19 146.30,284.70 147.36,284.10 148.47,283.41 149.63,282.63 150.83,281.76 152.06,280.82 153.31,279.81 154.58,278.74 155.84,277.61 157.10,276.44 158.34,275.24 159.55,274.00 160.72,272.75 161.85,271.49 162.93,270.24 163.94,268.99 164.89,267.76 165.75,266.57 166.54,265.41 167.23,264.30 167.83,263.25 168.33,262.26 168.73,261.35 169.02,260.51 169.20,259.76 169.28,259.09 169.24,258.53 169.09,258.06" fill="#16518e"/>
<text x="221.05" y="210.22" font-size="11.50" fill="#8bc1dc" stroke="#8bc1dc" stroke-width="0.22" text-anchor="middle">0.42</text>
<polygon points="200.13,226.53 199.40,225.90 198.59,225.37 197.69,224.94 196.72,224.61 195.69,224.39 194.59,224.28 193.44,224.28 192.25,224.38 191.03,224.60 189.79,224.92 188.53,225.35 187.26,225.88 186.00,226.51 184.76,227.23 183.54,228.04 182.35,228.93 181.20,229.89 180.11,230.93 179.07,232.02 178.11,233.16 177.21,234.34 176.40,235.55 175.68,236.79 175.05,238.05 174.52,239.31 174.09,240.56 173.76,241.80 173.54,243.02 173.43,244.21 173.44,245.35 173.55,246.44 173.77,247.47 174.10,248.44 174.53,249.33 175.07,250.14 175.70,250.87 176.43,251.50 177.24,252.03 178.14,252.46 179.11,252.79 180.14,253.01 181.24,253.12 182.39,253.12 183.58,253.02 184.80,252.80 186.04,252.48 187.30,252.05 188.57,251.52 189.83,250.89 191.07,250.17 192.29,249.36 193.48,248.47 194.63,247.51 195.72,246.47 196.76,245.38 197.72,244.24 198.62,243.06 199.43,241.85 200.15,240.61 200.78,239.35 201.31,238.09 201.74,236.84 202.07,235.60 202.29,234.38 202.40,233.19 202.39,232.05 202.28,230.96 202.06,229.93 201.73,228.96 201.30,228.07 200.76,227.26" fill="#8bc1dc"/>
<text x="254.18" y="210.22" font-size="11.50" fill="#77b4d5" stroke="#77b4d5" stroke-width="0.22" text-anchor="middle">0.47</text>
<polygon points="200.34,259.32 199.64,258.72 198.86,258.22 197.99,257.82 197.04,257.53 196.02,257.34 194.95,257.26 193.81,257.30 192.64,257.44 191.43,257.69 190.19,258.05 188.93,258.51 187.67,259.07 186.40,259.73 185.15,260.48 183.92,261.32 182.72,262.23 181.56,263.22 180.45,264.27 179.40,265.37 178.41,266.53 177.49,267.72 176.65,268.95 175.90,270.20 175.24,271.45 174.68,272.71 174.21,273.96 173.85,275.20 173.60,276.40 173.46,277.58 173.42,278.70 173.50,279.78 173.69,280.79 173.98,281.73 174.38,282.60 174.89,283.38 175.49,284.08 176.19,284.68 176.97,285.18 177.84,285.58 178.79,285.87 179.81,286.06 180.88,286.14 182.02,286.10 183.19,285.96 184.40,285.71 185.64,285.35 186.90,284.89 188.16,284.33 189.43,283.67 190.68,282.92 191.91,282.08 193.11,281.17 194.27,280.18 195.38,279.13 196.43,278.03 197.42,276.87 198.34,275.68 199.18,274.45 199.93,273.20 200.59,271.95 201.15,270.69 201.62,269.44 201.98,268.20 202.23,267.00 202.37,265.82 202.41,264.70 202.33,263.62 202.14,262.61 201.85,261.67 201.45,260.80 200.94,260.02" fill="#77b4d5"/>
<text x="254.18" y="243.22" font-size="11.50" fill="#3b88bd" stroke="#3b88bd" stroke-width="0.22" text-anchor="middle">0.65</text>
<polygon points="234.21,258.59 233.63,258.11 232.96,257.74 232.19,257.47 231.34,257.31 230.41,257.26 229.41,257.32 228.35,257.49 227.23,257.77 226.07,258.16 224.86,258.64 223.63,259.23 222.38,259.91 221.11,260.68 219.85,261.54 218.60,262.47 217.36,263.47 216.15,264.54 214.98,265.66 213.86,266.83 212.79,268.03 211.78,269.26 210.84,270.51 209.99,271.77 209.21,273.03 208.53,274.27 207.94,275.50 207.45,276.70 207.06,277.86 206.78,278.98 206.61,280.04 206.55,281.03 206.60,281.96 206.76,282.80 207.03,283.57 207.40,284.24 207.88,284.81 208.46,285.29 209.13,285.66 209.90,285.93 210.75,286.09 211.68,286.14 212.68,286.08 213.74,285.91 214.86,285.63 216.02,285.24 217.23,284.76 218.46,284.17 219.71,283.49 220.98,282.72 222.24,281.86 223.49,280.93 224.73,279.93 225.94,278.86 227.11,277.74 228.23,276.57 229.30,275.37 230.31,274.14 231.25,272.89 232.10,271.63 232.88,270.37 233.56,269.13 234.15,267.90 234.64,266.70 235.03,265.54 235.31,264.42 235.48,263.36 235.54,262.37 235.49,261.44 235.33,260.60 235.06,259.83 234.69,259.16" fill="#3b88bd"/>
<defs><linearGradient id="g0" x1="0" y1="0" x2="0" y2="1"><stop offset="0.0000" stop-color="#053061"/><stop offset="0.0050" stop-color="#063365"/><stop offset="0.0101" stop-color="#083569"/><stop offset="0.0151" stop-color="#09386c"/><stop offset="0.0201" stop-color="#0b3b70"/><stop offset="0.0251" stop-color="#0c3e74"/><stop offset="0.0302" stop-color="#0d4078"/><stop offset="0.0352" stop-color="#0f437b"/><stop offset="0.0402" stop-color="#10467f"/><stop offset="0.0452" stop-color="#124883"/><stop offset="0.0503" stop-color="#134b87"/><stop offset="0.0553" stop-color="#144e8a"/><stop offset="0.0603" stop-color="#16518e"/><stop offset="0.0653" stop-color="#175392"/><stop offset="0.0704" stop-color="#195696"/><stop offset="0.0754" stop-color="#1a599a"/><stop offset="0.0804" stop-color="#1c5b9d"/><stop offset="0.0854" stop-color="#1d5ea1"/><stop offset="0.0905" stop-color="#1e61a5"/><stop offset="0.0955" stop-color="#2064a9"/><stop offset="0.1005" stop-color="#2166ac"/><stop offset="0.1055" stop-color="#2368ad"/><stop offset="0.1106" stop-color="#256bae"/><stop offset="0.1156" stop-color="#266db0"/><stop offset="0.1206" stop-color="#286fb1"/><stop offset="0.1256" stop-color="#2a72b2"/><stop offset="0.1307" stop-color="#2b74b3"/><stop offset="0.1357" stop-color="#2d76b4"/><stop offset="0.1407" stop-color="#2f78b5"/><stop offset="0.1457" stop-color="#317bb7"/><stop offset="0.1508" stop-color="#327db8"/><stop offset="0.1558" stop-color="#347fb9"/><stop offset="0.1608" stop-color="#3681ba"/><stop offset="0.1658" stop-color="#3784bb"/><stop offset="0.1709" stop-color="#3986bc"/><stop offset="0.1759" stop-color="#3b88bd"/><stop offset="0.1809" stop-color="#3d8abf"/><stop offset="0.1859" stop-color="#3e8dc0"/><stop offset="0.1910" stop-color="#408fc1"/><stop offset="0.1960" stop-color="#4291c2"/><stop offset="0.2010" stop-color="#4494c3"/><stop offset="0.2060" stop-color="#4896c5"/><stop offset="0.2111" stop-color="#4c99c6"/><stop offset="0.2161" stop-color="#509bc7"/><stop offset="0.2211" stop-color="#549ec9"/><stop offset="0.2261" stop-color="#58a0ca"/><stop offset="0.2312" stop-color="#5ca3cb"/><stop offset="0.2362" stop-color="#60a5cd"/><stop offset="0.2412" stop-color="#64a8ce"/><stop offset="0.2462" stop-color="#68aacf"/><stop offset="0.2513" stop-color="#6badd1"/><stop offset="0.2563" stop-color="#6fafd2"/><stop offset="0.2613" stop-color="#73b2d4"/><stop offset="0.2663" stop-color="#77b4d5"/><stop offset="0.2714" stop-color="#7bb7d6"/><stop offset="0.2764" stop-color="#7fb9d8"/><stop offset="0.2814" stop-color="#83bcd9"/><stop offset="0.2864" stop-color="#87beda"/><stop offset="0.2915" stop-color="#8bc1dc"/><stop offset="0.2965" stop-color="#8fc3dd"/><stop offset="0.3015" stop-color="#93c5de"/><stop offset="0.3065" stop-color="#96c7df"/><stop offset="0.3116" stop-color="#99c9e0"/><stop offset="0.3166" stop-color="#9ccae1"/><stop offset="0.3216" stop-color="#a0cce2"/><stop offset="0.3266" stop-color="#a3cee3"/><stop offset="0.3317" stop-color="#a6cfe4"/><stop offset="0.3367" stop-color="#a9d1e5"/><stop offset="0.3417" stop-color="#acd2e6"/><stop offset="0.3467" stop-color="#afd4e6"/><stop offset="0.3518" stop-color="#b3d6e7"/><stop offset="0.3568" stop-color="#b6d7e8"/><stop offset="0.3618" stop-color="#b9d9e9"/><stop offset="0.3668" stop-color="#bcdaea"/><stop offset="0.3719" stop-color="#bfdceb"/><stop offset="0.3769" stop-color="#c2deec"/><stop offset="0.3819" stop-color="#c6dfed"/><stop offset="0.3869" stop-color="#c9e1ee"/><stop offset="0.3920" stop-color="#cce2ef"/><stop offset="0.3970" stop-color="#cfe4ef"/><stop offset="0.4020" stop-color="#d2e6f0"/><stop offset="0.4070" stop-color="#d4e7f1"/><stop offset="0.4121" stop-color="#d7e8f2"/><stop offset="0.4171" stop-color="#d9e9f3"/><stop offset="0.4221" stop-color="#dbebf3"/><stop offset="0.4271" stop-color="#ddecf4"/><stop offset="0.4322" stop-color="#e0edf5"/><stop offset="0.4372" stop-color="#e2eff6"/><stop offset="0.4422" stop-color="#e4f0f6"/><stop offset="0.4472" stop-color="#e7f1f7"/><stop offset="0.4523" stop-color="#e9f3f8"/><stop offset="0.4573" stop-color="#ebf4f9"/><stop offset="0.4623" stop-color="#eef5f9"/><stop offset="0.4673" stop-color="#f0f7fa"/><stop offset="0.4724" stop-color="#f2f8fb"/><stop offset="0.4774" stop-color="#f5f9fc"/><stop offset="0.4824" stop-color="#f7fafc"/><stop offset="0.4874" stop-color="#f9fcfd"/><stop offset="0.4925" stop-color="#fcfdfe"/><stop offset="0.4975" stop-color="#fefeff"/><stop offset="0.5025" stop-color="#fffefe"/><stop offset="0.5075" stop-color="#fffcfb"/><stop offset="0.5126" stop-color="#fffaf8"/><stop offset="0.5176" stop-color="#fff9f5"/><stop offset="0.5226" stop-color="#fff7f2"/><stop offset="0.5276" stop-color="#fef5f0"/><stop offset="0.5327" stop-color="#fef3ed"/><stop offset="0.5377" stop-color="#fef1ea"/><stop offset="0.5427" stop-color="#fef0e7"/><stop offset="0.5477" stop-color="#feeee4"/><stop offset="0.5528" stop-color="#feece1"/><stop offset="0.5578" stop-color="#feeadf"/><stop offset="0.5628" stop-color="#fee8dc"/><stop offset="0.5678" stop-color="#fee7d9"/><stop offset="0.5729" stop-color="#fee5d6"/><stop offset="0.5779" stop-color="#fde3d3"/><stop offset="0.5829" stop-color="#fde1d1"/><stop offset="0.5879" stop-color="#fddfce"/><stop offset="0.5930" stop-color="#fddecb"/><stop offset="0.5980" stop-color="#fddcc8"/><stop offset="0.6030" stop-color="#fdd9c5"/><stop offset="0.6080" stop-color="#fcd7c1"/><stop offset="0.6131" stop-color="#fcd4be"/><stop offset="0.6181" stop-color="#fbd1bb"/><stop offset="0.6231" stop-color="#fbcfb7"/><stop offset="0.6281" stop-color="#faccb4"/><stop offset="0.6332" stop-color="#fac9b0"/><stop offset="0.6382" stop-color="#fac6ad"/><stop offset="0.6432" stop-color="#f9c4a9"/><stop offset="0.6482" stop-color="#f9c1a6"/><stop offset="0.6533" stop-color="#f8bea2"/><stop offset="0.6583" stop-color="#f8bc9f"/><stop offset="0.6633" stop-color="#f7b99b"/><stop offset="0.6683" stop-color="#f7b698"/><stop offset="0.6734" stop-color="#f6b394"/><stop offset="0.6784" stop-color="#f6b191"/><stop offset="0.6834" stop-color="#f5ae8d"/><stop offset="0.6884" stop-color="#f5ab8a"/><stop offset="0.6935" stop-color="#f5a987"/><stop offset="0.6985" stop-color="#f4a683"/><stop offset="0.7035" stop-color="#f3a380"/><stop offset="0.7085" stop-color="#f19f7d"/><stop offset="0.7136" stop-color="#f09c7b"/><stop offset="0.7186" stop-color="#ee9878"/><stop offset="0.7236" stop-color="#ed9575"/><stop offset="0.7286" stop-color="#eb9173"/><stop offset="0.7337" stop-color="#ea8e70"/><stop offset="0.7387" stop-color="#e88a6d"/><stop offset="0.7437" stop-color="#e7876b"/><stop offset="0.7487" stop-color="#e58368"/><stop offset="0.7538" stop-color="#e48066"/><stop offset="0.7588" stop-color="#e27c63"/><stop offset="0.7638" stop-color="#e17960"/><stop offset="0.7688" stop-color="#df755e"/><stop offset="0.7739" stop-color="#de725b"/><stop offset="0.7789" stop-color="#dc6f58"/><stop offset="0.7839" stop-color="#db6b56"/><stop offset="0.7889" stop-color="#d96853"/><stop offset="0.7940" stop-color="#d86450"/><stop offset="0.7990" stop-color="#d6614e"/><stop offset="0.8040" stop-color="#d55d4c"/><stop offset="0.8090" stop-color="#d3594a"/><stop offset="0.8141" stop-color="#d15648"/><stop offset="0.8191" stop-color="#cf5247"/><stop offset="0.8241" stop-color="#cd4f45"/><stop offset="0.8291" stop-color="#cc4b43"/><stop offset="0.8342" stop-color="#ca4741"/><stop offset="0.8392" stop-color="#c84440"/><stop offset="0.8442" stop-color="#c6403e"/><stop offset="0.8492" stop-color="#c43d3c"/><stop offset="0.8543" stop-color="#c2393b"/><stop offset="0.8593" stop-color="#c13539"/><stop offset="0.8643" stop-color="#bf3237"/><stop offset="0.8693" stop-color="#bd2e35"/><stop offset="0.8744" stop-color="#bb2a34"/><stop offset="0.8794" stop-color="#b92732"/><stop offset="0.8844" stop-color="#b82330"/><stop offset="0.8894" stop-color="#b6202f"/><stop offset="0.8945" stop-color="#b41c2d"/><stop offset="0.8995" stop-color="#b2182b"/><stop offset="0.9045" stop-color="#af172a"/><stop offset="0.9095" stop-color="#ab162a"/><stop offset="0.9146" stop-color="#a71529"/><stop offset="0.9196" stop-color="#a31329"/><stop offset="0.9246" stop-color="#a01228"/><stop offset="0.9296" stop-color="#9c1127"/><stop offset="0.9347" stop-color="#981027"/><stop offset="0.9397" stop-color="#940e26"/><stop offset="0.9447" stop-color="#900d26"/><stop offset="0.9497" stop-color="#8d0c25"/><stop offset="0.9548" stop-color="#890b24"/><stop offset="0.9598" stop-color="#850a24"/><stop offset="0.9648" stop-color="#810823"/><stop offset="0.9698" stop-color="#7e0723"/><stop offset="0.9749" stop-color="#7a0622"/><stop offset="0.9799" stop-color="#760521"/><stop offset="0.9849" stop-color="#720421"/><stop offset="0.9899" stop-color="#6f0220"/><stop offset="0.9950" stop-color="#6b0120"/><stop offset="1.0000" stop-color="#67001f"/></linearGradient></defs>
<rect x="281.80" y="50.50" width="23.00" height="227.90" fill="url(#g0)" stroke="#111" stroke-width="1.2"/>
<text x="310.90" y="54.45" font-size="8.80" fill="#111">1.0</text>
<path d="M281.80 107.47h4M304.80 107.47h-4" stroke="#333" stroke-opacity="0.6" stroke-width="0.8"/>
<text x="310.90" y="111.43" font-size="8.80" fill="#111">0.5</text>
<path d="M281.80 164.45h4M304.80 164.45h-4" stroke="#333" stroke-opacity="0.6" stroke-width="0.8"/>
<text x="310.90" y="168.40" font-size="8.80" fill="#111">0.0</text>
<path d="M281.80 221.43h4M304.80 221.43h-4" stroke="#333" stroke-opacity="0.6" stroke-width="0.8"/>
<text x="310.70" y="225.38" font-size="8.80" fill="#111">-0.5</text>
<text x="310.70" y="282.35" font-size="8.80" fill="#111">-1.0</text>
</g>
<g>
<text x="344.10" y="15.50" font-size="13.90" fill="#111">Post-test</text>
<line x1="343.70" y1="24.20" x2="343.70" y2="288.20" stroke="#f0f0f0" stroke-width="1"/>
<line x1="343.70" y1="24.20" x2="608.74" y2="24.20" stroke="#f0f0f0" stroke-width="1"/>
<line x1="376.83" y1="24.20" x2="376.83" y2="288.20" stroke="#f0f0f0" stroke-width="1"/>
<line x1="343.70" y1="57.20" x2="608.74" y2="57.20" stroke="#f0f0f0" stroke-width="1"/>
<line x1="409.96" y1="24.20" x2="409.96" y2="288.20" stroke="#f0f0f0" stroke-width="1"/>
<line x1="343.70" y1="90.20" x2="608.74" y2="90.20" stroke="#f0f0f0" stroke-width="1"/>
<line x1="443.09" y1="24.20" x2="443.09" y2="288.20" stroke="#f0f0f0" stroke-width="1"/>
<line x1="343.70" y1="123.20" x2="608.74" y2="123.20" stroke="#f0f0f0" stroke-width="1"/>
<line x1="476.22" y1="24.20" x2="476.22" y2="288.20" stroke="#f0f0f0" stroke-width="1"/>
<line x1="343.70" y1="156.20" x2="608.74" y2="156.20" stroke="#f0f0f0" stroke-width="1"/>
<line x1="509.35" y1="24.20" x2="509.35" y2="288.20" stroke="#f0f0f0" stroke-width="1"/>
<line x1="343.70" y1="189.20" x2="608.74" y2="189.20" stroke="#f0f0f0" stroke-width="1"/>
<line x1="542.48" y1="24.20" x2="542.48" y2="288.20" stroke="#f0f0f0" stroke-width="1"/>
<line x1="343.70" y1="222.20" x2="608.74" y2="222.20" stroke="#f0f0f0" stroke-width="1"/>
<line x1="575.61" y1="24.20" x2="575.61" y2="288.20" stroke="#f0f0f0" stroke-width="1"/>
<line x1="343.70" y1="255.20" x2="608.74" y2="255.20" stroke="#f0f0f0" stroke-width="1"/>
<line x1="608.74" y1="24.20" x2="608.74" y2="288.20" stroke="#f0f0f0" stroke-width="1"/>
<line x1="343.70" y1="288.20" x2="608.74" y2="288.20" stroke="#f0f0f0" stroke-width="1"/>
<text x="360.26" y="45.29" font-size="11.70" fill="#4d4d4d" stroke="#4d4d4d" stroke-width="0.15" text-anchor="middle">DSM</text>
<text x="393.39" y="78.29" font-size="11.70" fill="#4d4d4d" stroke="#4d4d4d" stroke-width="0.15" text-anchor="middle">HLB</text>
<text x="426.52" y="111.29" font-size="11.70" fill="#4d4d4d" stroke="#4d4d4d" stroke-width="0.15" text-anchor="middle">BGM</text>
<text x="459.65" y="144.29" font-size="11.70" fill="#4d4d4d" stroke="#4d4d4d" stroke-width="0.15" text-anchor="middle">HCU</text>
<text x="492.78" y="177.29" font-size="11.70" fill="#4d4d4d" stroke="#4d4d4d" stroke-width="0.15" text-anchor="middle">DES</text>
<text x="525.91" y="210.29" font-size="11.70" fill="#4d4d4d" stroke="#4d4d4d" stroke-width="0.15" text-anchor="middle">MPC</text>
<text x="559.05" y="243.29" font-size="11.70" fill="#4d4d4d" stroke="#4d4d4d" stroke-width="0.15" text-anchor="middle">DLRI</text>
<text x="592.17" y="276.29" font-size="11.70" fill="#4d4d4d" stroke="#4d4d4d" stroke-width="0.15" text-anchor="middle">SADG</text>
<text x="393.39" y="45.22" font-size="11.50" fill="#0c3e74" stroke="#0c3e74" stroke-width="0.22" text-anchor="middle">0.95</text>
<polygon points="374.58,59.44 374.32,59.30 373.96,59.26 373.50,59.34 372.93,59.52 372.27,59.82 371.51,60.21 370.67,60.71 369.76,61.31 368.76,62.01 367.71,62.79 366.60,63.65 365.44,64.60 364.24,65.61 363.01,66.68 361.76,67.81 360.49,68.98 359.23,70.18 357.97,71.42 356.73,72.67 355.52,73.93 354.35,75.18 353.22,76.43 352.14,77.66 351.12,78.85 350.18,80.01 349.31,81.11 348.52,82.17 347.83,83.15 347.23,84.07 346.72,84.90 346.33,85.66 346.03,86.32 345.85,86.88 345.77,87.34 345.81,87.70 345.95,87.96 346.21,88.10 346.57,88.14 347.03,88.06 347.60,87.88 348.26,87.58 349.02,87.19 349.86,86.69 350.77,86.09 351.77,85.39 352.82,84.61 353.93,83.75 355.09,82.80 356.29,81.79 357.52,80.72 358.77,79.59 360.04,78.42 361.30,77.22 362.56,75.98 363.80,74.73 365.01,73.47 366.18,72.22 367.31,70.97 368.39,69.74 369.41,68.55 370.35,67.39 371.22,66.29 372.01,65.23 372.70,64.25 373.30,63.33 373.81,62.50 374.20,61.74 374.50,61.08 374.68,60.52 374.76,60.06 374.72,59.70" fill="#0c3e74"/>
<text x="426.52" y="45.22" font-size="11.50" fill="#0d4078" stroke="#0d4078" stroke-width="0.22" text-anchor="middle">0.93</text>
<polygon points="374.50,92.52 374.21,92.34 373.82,92.26 373.32,92.30 372.72,92.45 372.02,92.70 371.24,93.07 370.37,93.53 369.43,94.10 368.42,94.76 367.34,95.51 366.21,96.35 365.04,97.27 363.82,98.26 362.59,99.31 361.33,100.42 360.07,101.58 358.80,102.77 357.55,104.00 356.32,105.25 355.12,106.50 353.96,107.76 352.85,109.01 351.79,110.25 350.80,111.45 349.88,112.62 349.04,113.75 348.28,114.82 347.61,115.83 347.05,116.77 346.58,117.63 346.21,118.41 345.96,119.10 345.81,119.70 345.77,120.20 345.84,120.59 346.03,120.88 346.32,121.06 346.71,121.14 347.21,121.10 347.81,120.95 348.51,120.70 349.29,120.33 350.16,119.87 351.10,119.30 352.11,118.64 353.19,117.89 354.32,117.05 355.49,116.13 356.71,115.14 357.94,114.09 359.20,112.98 360.46,111.82 361.73,110.63 362.98,109.40 364.21,108.15 365.41,106.90 366.57,105.64 367.68,104.39 368.74,103.15 369.73,101.95 370.65,100.78 371.49,99.65 372.25,98.58 372.92,97.57 373.48,96.63 373.95,95.77 374.32,94.99 374.57,94.30 374.72,93.70 374.76,93.20 374.69,92.81" fill="#0d4078"/>
<text x="459.65" y="45.22" font-size="11.50" fill="#256bae" stroke="#256bae" stroke-width="0.22" text-anchor="middle">0.78</text>
<polygon points="373.94,126.08 373.47,125.71 372.90,125.46 372.23,125.30 371.47,125.26 370.63,125.33 369.70,125.51 368.71,125.80 367.65,126.19 366.53,126.68 365.37,127.28 364.17,127.97 362.94,128.74 361.69,129.60 360.42,130.54 359.16,131.55 357.91,132.62 356.67,133.74 355.46,134.91 354.28,136.12 353.16,137.35 352.08,138.60 351.07,139.86 350.13,141.12 349.26,142.36 348.48,143.59 347.79,144.79 347.20,145.95 346.70,147.06 346.31,148.11 346.02,149.10 345.84,150.02 345.77,150.86 345.81,151.62 345.96,152.28 346.22,152.85 346.59,153.32 347.06,153.69 347.63,153.94 348.30,154.10 349.06,154.14 349.90,154.07 350.83,153.89 351.82,153.60 352.88,153.21 354.00,152.72 355.16,152.12 356.36,151.43 357.59,150.66 358.84,149.80 360.11,148.86 361.37,147.85 362.62,146.78 363.86,145.66 365.07,144.49 366.25,143.28 367.37,142.05 368.45,140.80 369.46,139.54 370.40,138.28 371.27,137.04 372.05,135.81 372.74,134.61 373.33,133.45 373.83,132.34 374.22,131.29 374.51,130.30 374.69,129.38 374.76,128.54 374.72,127.78 374.57,127.12 374.31,126.55" fill="#256bae"/>
<text x="492.78" y="45.22" font-size="11.50" fill="#1d5ea1" stroke="#1d5ea1" stroke-width="0.22" text-anchor="middle">0.83</text>
<polygon points="374.13,158.89 373.71,158.58 373.19,158.37 372.56,158.27 371.85,158.28 371.04,158.40 370.16,158.64 369.20,158.97 368.17,159.42 367.08,159.96 365.94,160.60 364.76,161.33 363.54,162.15 362.29,163.05 361.04,164.02 359.77,165.06 358.51,166.16 357.26,167.30 356.04,168.49 354.85,169.71 353.70,170.95 352.59,172.21 351.55,173.47 350.58,174.72 349.67,175.96 348.85,177.17 348.12,178.35 347.47,179.49 346.93,180.57 346.48,181.60 346.14,182.56 345.91,183.44 345.79,184.24 345.78,184.95 345.88,185.57 346.08,186.09 346.40,186.51 346.82,186.82 347.34,187.03 347.97,187.13 348.68,187.12 349.49,187.00 350.37,186.76 351.33,186.43 352.36,185.98 353.45,185.44 354.59,184.80 355.77,184.07 356.99,183.25 358.24,182.35 359.49,181.38 360.76,180.34 362.02,179.24 363.27,178.10 364.49,176.91 365.68,175.69 366.83,174.45 367.94,173.19 368.98,171.93 369.95,170.68 370.86,169.44 371.68,168.23 372.41,167.05 373.06,165.91 373.60,164.83 374.05,163.80 374.39,162.84 374.62,161.96 374.74,161.16 374.75,160.45 374.65,159.83 374.45,159.31" fill="#1d5ea1"/>
<text x="525.91" y="45.22" font-size="11.50" fill="#286fb1" stroke="#286fb1" stroke-width="0.22" text-anchor="middle">0.76</text>
<polygon points="373.86,192.16 373.37,191.77 372.78,191.49 372.10,191.32 371.32,191.26 370.47,191.31 369.53,191.47 368.52,191.74 367.45,192.11 366.33,192.59 365.16,193.16 363.95,193.83 362.72,194.60 361.46,195.44 360.20,196.37 358.93,197.36 357.68,198.42 356.45,199.54 355.24,200.70 354.08,201.90 352.96,203.13 351.90,204.37 350.90,205.63 349.97,206.89 349.12,208.14 348.35,209.37 347.68,210.57 347.10,211.74 346.62,212.86 346.25,213.93 345.98,214.93 345.82,215.86 345.77,216.72 345.83,217.49 346.00,218.17 346.28,218.76 346.67,219.24 347.16,219.63 347.75,219.91 348.43,220.08 349.21,220.14 350.06,220.09 351.00,219.93 352.01,219.66 353.08,219.29 354.20,218.81 355.37,218.24 356.58,217.57 357.81,216.80 359.07,215.96 360.33,215.03 361.60,214.04 362.85,212.98 364.08,211.86 365.29,210.70 366.45,209.50 367.57,208.27 368.63,207.03 369.63,205.77 370.56,204.51 371.41,203.26 372.18,202.03 372.85,200.83 373.43,199.66 373.91,198.54 374.28,197.47 374.55,196.47 374.71,195.54 374.76,194.68 374.70,193.91 374.53,193.23 374.25,192.64" fill="#286fb1"/>
<text x="559.05" y="45.22" font-size="11.50" fill="#256bae" stroke="#256bae" stroke-width="0.22" text-anchor="middle">0.78</text>
<polygon points="373.94,225.08 373.47,224.71 372.90,224.46 372.23,224.30 371.47,224.26 370.63,224.33 369.70,224.51 368.71,224.80 367.65,225.19 366.53,225.68 365.37,226.28 364.17,226.97 362.94,227.74 361.69,228.60 360.42,229.54 359.16,230.55 357.91,231.62 356.67,232.74 355.46,233.91 354.28,235.12 353.16,236.35 352.08,237.60 351.07,238.86 350.13,240.12 349.26,241.36 348.48,242.59 347.79,243.79 347.20,244.95 346.70,246.06 346.31,247.11 346.02,248.10 345.84,249.02 345.77,249.86 345.81,250.62 345.96,251.28 346.22,251.85 346.59,252.32 347.06,252.69 347.63,252.94 348.30,253.10 349.06,253.14 349.90,253.07 350.83,252.89 351.82,252.60 352.88,252.21 354.00,251.72 355.16,251.12 356.36,250.43 357.59,249.66 358.84,248.80 360.11,247.86 361.37,246.85 362.62,245.78 363.86,244.66 365.07,243.49 366.25,242.28 367.37,241.05 368.45,239.80 369.46,238.54 370.40,237.28 371.27,236.04 372.05,234.81 372.74,233.61 373.33,232.45 373.83,231.34 374.22,230.29 374.51,229.30 374.69,228.38 374.76,227.54 374.72,226.78 374.57,226.12 374.31,225.55" fill="#256bae"/>
<text x="592.17" y="45.22" font-size="11.50" fill="#1d5ea1" stroke="#1d5ea1" stroke-width="0.22" text-anchor="middle">0.83</text>
<polygon points="374.13,257.89 373.71,257.58 373.19,257.37 372.56,257.27 371.85,257.28 371.04,257.40 370.16,257.64 369.20,257.97 368.17,258.42 367.08,258.96 365.94,259.60 364.76,260.33 363.54,261.15 362.29,262.05 361.04,263.02 359.77,264.06 358.51,265.16 357.26,266.30 356.04,267.49 354.85,268.71 353.70,269.95 352.59,271.21 351.55,272.47 350.58,273.72 349.67,274.96 348.85,276.17 348.12,277.35 347.47,278.49 346.93,279.57 346.48,280.60 346.14,281.56 345.91,282.44 345.79,283.24 345.78,283.95 345.88,284.57 346.08,285.09 346.40,285.51 346.82,285.82 347.34,286.03 347.97,286.13 348.68,286.12 349.49,286.00 350.37,285.76 351.33,285.43 352.36,284.98 353.45,284.44 354.59,283.80 355.77,283.07 356.99,282.25 358.24,281.35 359.49,280.38 360.76,279.34 362.02,278.24 363.27,277.10 364.49,275.91 365.68,274.69 366.83,273.45 367.94,272.19 368.98,270.93 369.95,269.68 370.86,268.44 371.68,267.23 372.41,266.05 373.06,264.91 373.60,263.83 374.05,262.80 374.39,261.84 374.62,260.96 374.74,260.16 374.75,259.45 374.65,258.83 374.45,258.31" fill="#1d5ea1"/>
<text x="426.52" y="78.22" font-size="11.50" fill="#2064a9" stroke="#2064a9" stroke-width="0.22" text-anchor="middle">0.81</text>
<polygon points="407.18,92.97 406.74,92.63 406.20,92.40 405.56,92.28 404.82,92.27 404.00,92.37 403.10,92.58 402.13,92.90 401.09,93.32 399.99,93.84 398.84,94.46 397.64,95.18 396.42,95.98 395.17,96.86 393.91,97.82 392.65,98.85 391.39,99.93 390.15,101.07 388.93,102.25 387.74,103.46 386.60,104.70 385.51,105.96 384.48,107.22 383.52,108.47 382.63,109.71 381.83,110.93 381.11,112.12 380.49,113.27 379.96,114.36 379.54,115.40 379.22,116.37 379.01,117.27 378.91,118.08 378.92,118.81 379.04,119.45 379.27,119.99 379.61,120.43 380.05,120.77 380.59,121.00 381.23,121.12 381.97,121.13 382.79,121.03 383.69,120.82 384.66,120.50 385.70,120.08 386.80,119.56 387.95,118.94 389.15,118.22 390.37,117.42 391.62,116.54 392.88,115.58 394.14,114.55 395.40,113.47 396.64,112.33 397.86,111.15 399.05,109.94 400.19,108.70 401.28,107.44 402.31,106.18 403.27,104.93 404.16,103.69 404.96,102.47 405.68,101.28 406.30,100.13 406.83,99.04 407.25,98.00 407.57,97.03 407.78,96.13 407.88,95.32 407.87,94.59 407.75,93.95 407.52,93.41" fill="#2064a9"/>
<text x="459.65" y="78.22" font-size="11.50" fill="#549ec9" stroke="#549ec9" stroke-width="0.22" text-anchor="middle">0.56</text>
<polygon points="406.20,126.95 405.55,126.41 404.82,125.97 404.00,125.63 403.10,125.40 402.12,125.28 401.08,125.27 399.98,125.37 398.83,125.58 397.64,125.90 396.42,126.32 395.17,126.84 393.91,127.46 392.64,128.17 391.38,128.98 390.14,129.86 388.92,130.82 387.74,131.84 386.60,132.93 385.51,134.07 384.48,135.25 383.52,136.46 382.63,137.70 381.82,138.95 381.11,140.21 380.48,141.47 379.96,142.71 379.54,143.93 379.22,145.11 379.01,146.26 378.91,147.36 378.92,148.39 379.04,149.37 379.27,150.26 379.61,151.08 380.05,151.81 380.59,152.45 381.24,152.99 381.97,153.43 382.79,153.77 383.69,154.00 384.67,154.12 385.71,154.13 386.81,154.03 387.96,153.82 389.15,153.50 390.37,153.08 391.62,152.56 392.88,151.94 394.15,151.23 395.41,150.42 396.65,149.54 397.87,148.58 399.05,147.56 400.19,146.47 401.28,145.33 402.31,144.15 403.27,142.94 404.16,141.70 404.97,140.45 405.68,139.19 406.31,137.93 406.83,136.69 407.25,135.47 407.57,134.29 407.78,133.14 407.88,132.04 407.87,131.01 407.75,130.03 407.52,129.14 407.18,128.32 406.74,127.59" fill="#549ec9"/>
<text x="492.78" y="78.22" font-size="11.50" fill="#1e61a5" stroke="#1e61a5" stroke-width="0.22" text-anchor="middle">0.82</text>
<polygon points="407.22,158.93 406.79,158.60 406.26,158.38 405.63,158.28 404.90,158.28 404.09,158.39 403.20,158.61 402.23,158.93 401.19,159.37 400.10,159.90 398.95,160.53 397.76,161.25 396.54,162.06 395.30,162.95 394.04,163.92 392.77,164.95 391.51,166.04 390.27,167.18 389.05,168.37 387.86,169.59 386.71,170.83 385.62,172.08 384.58,173.34 383.61,174.60 382.72,175.84 381.90,177.05 381.18,178.23 380.54,179.38 380.01,180.47 379.57,181.50 379.25,182.46 379.03,183.35 378.91,184.16 378.91,184.88 379.02,185.51 379.24,186.04 379.57,186.47 380.00,186.80 380.53,187.02 381.16,187.12 381.89,187.12 382.70,187.01 383.59,186.79 384.56,186.47 385.60,186.03 386.69,185.50 387.84,184.87 389.03,184.15 390.25,183.34 391.49,182.45 392.75,181.48 394.02,180.45 395.28,179.36 396.52,178.22 397.74,177.03 398.93,175.81 400.08,174.57 401.17,173.32 402.21,172.06 403.18,170.80 404.07,169.56 404.89,168.35 405.61,167.17 406.25,166.02 406.78,164.93 407.22,163.90 407.54,162.94 407.76,162.05 407.88,161.24 407.88,160.52 407.77,159.89 407.55,159.36" fill="#1e61a5"/>
<text x="525.91" y="78.22" font-size="11.50" fill="#286fb1" stroke="#286fb1" stroke-width="0.22" text-anchor="middle">0.76</text>
<polygon points="406.99,192.16 406.50,191.77 405.91,191.49 405.23,191.32 404.45,191.26 403.60,191.31 402.66,191.47 401.65,191.74 400.58,192.11 399.46,192.59 398.29,193.16 397.08,193.83 395.85,194.60 394.59,195.44 393.33,196.37 392.06,197.36 390.81,198.42 389.58,199.54 388.37,200.70 387.21,201.90 386.09,203.13 385.03,204.37 384.03,205.63 383.10,206.89 382.25,208.14 381.48,209.37 380.81,210.57 380.23,211.74 379.75,212.86 379.38,213.93 379.11,214.93 378.95,215.86 378.90,216.72 378.96,217.49 379.13,218.17 379.41,218.76 379.80,219.24 380.29,219.63 380.88,219.91 381.56,220.08 382.34,220.14 383.19,220.09 384.13,219.93 385.14,219.66 386.21,219.29 387.33,218.81 388.50,218.24 389.71,217.57 390.94,216.80 392.20,215.96 393.46,215.03 394.73,214.04 395.98,212.98 397.21,211.86 398.42,210.70 399.58,209.50 400.70,208.27 401.76,207.03 402.76,205.77 403.69,204.51 404.54,203.26 405.31,202.03 405.98,200.83 406.56,199.66 407.04,198.54 407.41,197.47 407.68,196.47 407.84,195.54 407.89,194.68 407.83,193.91 407.66,193.23 407.38,192.64" fill="#286fb1"/>
<text x="559.05" y="78.22" font-size="11.50" fill="#256bae" stroke="#256bae" stroke-width="0.22" text-anchor="middle">0.78</text>
<polygon points="407.07,225.08 406.60,224.71 406.03,224.46 405.36,224.30 404.60,224.26 403.76,224.33 402.83,224.51 401.84,224.80 400.78,225.19 399.66,225.68 398.50,226.28 397.30,226.97 396.07,227.74 394.82,228.60 393.55,229.54 392.29,230.55 391.04,231.62 389.80,232.74 388.59,233.91 387.41,235.12 386.29,236.35 385.21,237.60 384.20,238.86 383.26,240.12 382.39,241.36 381.61,242.59 380.92,243.79 380.33,244.95 379.83,246.06 379.44,247.11 379.15,248.10 378.97,249.02 378.90,249.86 378.94,250.62 379.09,251.28 379.35,251.85 379.72,252.32 380.19,252.69 380.76,252.94 381.43,253.10 382.19,253.14 383.03,253.07 383.96,252.89 384.95,252.60 386.01,252.21 387.13,251.72 388.29,251.12 389.49,250.43 390.72,249.66 391.97,248.80 393.24,247.86 394.50,246.85 395.75,245.78 396.99,244.66 398.20,243.49 399.38,242.28 400.50,241.05 401.58,239.80 402.59,238.54 403.53,237.28 404.40,236.04 405.18,234.81 405.87,233.61 406.46,232.45 406.96,231.34 407.35,230.29 407.64,229.30 407.82,228.38 407.89,227.54 407.85,226.78 407.70,226.12 407.44,225.55" fill="#256bae"/>
<text x="592.17" y="78.22" font-size="11.50" fill="#1e61a5" stroke="#1e61a5" stroke-width="0.22" text-anchor="middle">0.82</text>
<polygon points="407.22,257.93 406.79,257.60 406.26,257.38 405.63,257.28 404.90,257.28 404.09,257.39 403.20,257.61 402.23,257.93 401.19,258.37 400.10,258.90 398.95,259.53 397.76,260.25 396.54,261.06 395.30,261.95 394.04,262.92 392.77,263.95 391.51,265.04 390.27,266.18 389.05,267.37 387.86,268.59 386.71,269.83 385.62,271.08 384.58,272.34 383.61,273.60 382.72,274.84 381.90,276.05 381.18,277.23 380.54,278.38 380.01,279.47 379.57,280.50 379.25,281.46 379.03,282.35 378.91,283.16 378.91,283.88 379.02,284.51 379.24,285.04 379.57,285.47 380.00,285.80 380.53,286.02 381.16,286.12 381.89,286.12 382.70,286.01 383.59,285.79 384.56,285.47 385.60,285.03 386.69,284.50 387.84,283.87 389.03,283.15 390.25,282.34 391.49,281.45 392.75,280.48 394.02,279.45 395.28,278.36 396.52,277.22 397.74,276.03 398.93,274.81 400.08,273.57 401.17,272.32 402.21,271.06 403.18,269.80 404.07,268.56 404.89,267.35 405.61,266.17 406.25,265.02 406.78,263.93 407.22,262.90 407.54,261.94 407.76,261.05 407.88,260.24 407.88,259.52 407.77,258.89 407.55,258.36" fill="#1e61a5"/>
<text x="459.65" y="111.22" font-size="11.50" fill="#2d76b4" stroke="#2d76b4" stroke-width="0.22" text-anchor="middle">0.73</text>
<polygon points="440.01,126.27 439.49,125.86 438.88,125.56 438.17,125.36 437.37,125.27 436.49,125.29 435.54,125.42 434.51,125.66 433.43,126.00 432.29,126.45 431.11,127.01 429.89,127.65 428.65,128.39 427.40,129.22 426.13,130.12 424.87,131.10 423.62,132.14 422.39,133.25 421.20,134.40 420.04,135.59 418.94,136.81 417.89,138.05 416.91,139.31 416.00,140.57 415.17,141.82 414.43,143.06 413.78,144.27 413.23,145.44 412.78,146.58 412.43,147.66 412.19,148.68 412.06,149.63 412.04,150.50 412.13,151.30 412.32,152.00 412.63,152.61 413.04,153.13 413.56,153.54 414.17,153.84 414.88,154.04 415.68,154.13 416.56,154.11 417.51,153.98 418.54,153.74 419.62,153.40 420.76,152.95 421.94,152.39 423.16,151.75 424.40,151.01 425.65,150.18 426.92,149.28 428.18,148.30 429.43,147.26 430.66,146.15 431.85,145.00 433.01,143.81 434.11,142.59 435.16,141.35 436.14,140.09 437.05,138.83 437.88,137.58 438.62,136.34 439.27,135.13 439.82,133.96 440.27,132.82 440.62,131.74 440.86,130.72 440.99,129.77 441.01,128.90 440.92,128.10 440.73,127.40 440.42,126.79" fill="#2d76b4"/>
<text x="492.78" y="111.22" font-size="11.50" fill="#286fb1" stroke="#286fb1" stroke-width="0.22" text-anchor="middle">0.76</text>
<polygon points="440.12,159.16 439.63,158.77 439.04,158.49 438.36,158.32 437.58,158.26 436.73,158.31 435.79,158.47 434.78,158.74 433.71,159.11 432.59,159.59 431.42,160.16 430.21,160.83 428.98,161.60 427.72,162.44 426.46,163.37 425.19,164.36 423.94,165.42 422.71,166.54 421.50,167.70 420.34,168.90 419.22,170.13 418.16,171.37 417.16,172.63 416.23,173.89 415.38,175.14 414.61,176.37 413.94,177.57 413.36,178.74 412.88,179.86 412.51,180.93 412.24,181.93 412.08,182.86 412.03,183.72 412.09,184.49 412.26,185.17 412.54,185.76 412.93,186.24 413.42,186.63 414.01,186.91 414.69,187.08 415.47,187.14 416.32,187.09 417.26,186.93 418.27,186.66 419.34,186.29 420.46,185.81 421.63,185.24 422.84,184.57 424.07,183.80 425.33,182.96 426.59,182.03 427.86,181.04 429.11,179.98 430.34,178.86 431.55,177.70 432.71,176.50 433.83,175.27 434.89,174.03 435.89,172.77 436.82,171.51 437.67,170.26 438.44,169.03 439.11,167.83 439.69,166.66 440.17,165.54 440.54,164.47 440.81,163.47 440.97,162.54 441.02,161.68 440.96,160.91 440.79,160.23 440.51,159.64" fill="#286fb1"/>
<text x="525.91" y="111.22" font-size="11.50" fill="#327db8" stroke="#327db8" stroke-width="0.22" text-anchor="middle">0.70</text>
<polygon points="439.89,192.39 439.35,191.95 438.71,191.62 437.98,191.40 437.16,191.28 436.26,191.27 435.29,191.38 434.25,191.59 433.15,191.91 432.00,192.33 430.81,192.86 429.59,193.48 428.35,194.20 427.08,195.01 425.82,195.89 424.56,196.85 423.32,197.88 422.10,198.97 420.91,200.11 419.77,201.29 418.68,202.50 417.64,203.74 416.68,205.00 415.79,206.26 414.98,207.51 414.26,208.75 413.64,209.97 413.11,211.16 412.68,212.30 412.36,213.40 412.15,214.43 412.04,215.40 412.05,216.30 412.16,217.11 412.39,217.84 412.72,218.47 413.16,219.01 413.70,219.45 414.34,219.78 415.07,220.00 415.89,220.12 416.79,220.13 417.76,220.02 418.80,219.81 419.90,219.49 421.05,219.07 422.24,218.54 423.46,217.92 424.70,217.20 425.97,216.39 427.23,215.51 428.49,214.55 429.73,213.52 430.95,212.43 432.14,211.29 433.28,210.11 434.37,208.90 435.41,207.66 436.37,206.40 437.26,205.14 438.07,203.89 438.79,202.65 439.41,201.43 439.94,200.24 440.37,199.10 440.69,198.00 440.90,196.97 441.01,196.00 441.00,195.10 440.89,194.29 440.66,193.56 440.33,192.93" fill="#327db8"/>
<text x="559.05" y="111.22" font-size="11.50" fill="#347fb9" stroke="#347fb9" stroke-width="0.22" text-anchor="middle">0.69</text>
<polygon points="439.85,225.43 439.30,224.98 438.66,224.64 437.92,224.41 437.09,224.28 436.19,224.27 435.21,224.36 434.17,224.57 433.06,224.88 431.91,225.30 430.72,225.82 429.49,226.43 428.24,227.14 426.98,227.94 425.72,228.82 424.46,229.77 423.22,230.80 422.00,231.88 420.82,233.02 419.68,234.19 418.59,235.41 417.56,236.64 416.61,237.90 415.72,239.16 414.92,240.41 414.21,241.66 413.59,242.88 413.07,244.07 412.65,245.21 412.34,246.31 412.13,247.35 412.04,248.33 412.05,249.23 412.18,250.05 412.41,250.78 412.75,251.43 413.20,251.97 413.75,252.42 414.39,252.76 415.13,252.99 415.96,253.12 416.86,253.13 417.84,253.04 418.88,252.83 419.99,252.52 421.14,252.10 422.33,251.58 423.56,250.97 424.81,250.26 426.07,249.46 427.33,248.58 428.59,247.63 429.83,246.60 431.05,245.52 432.23,244.38 433.37,243.21 434.46,241.99 435.49,240.76 436.44,239.50 437.33,238.24 438.13,236.99 438.84,235.74 439.46,234.52 439.98,233.33 440.40,232.19 440.71,231.09 440.92,230.05 441.01,229.07 441.00,228.17 440.87,227.35 440.64,226.62 440.30,225.97" fill="#347fb9"/>
<text x="592.17" y="111.22" font-size="11.50" fill="#2368ad" stroke="#2368ad" stroke-width="0.22" text-anchor="middle">0.79</text>
<polygon points="440.24,258.04 439.78,257.69 439.21,257.44 438.55,257.30 437.80,257.27 436.97,257.34 436.05,257.53 435.06,257.83 434.01,258.23 432.90,258.73 431.74,259.34 430.54,260.03 429.31,260.82 428.06,261.69 426.80,262.63 425.54,263.65 424.28,264.72 423.04,265.85 421.83,267.02 420.65,268.23 419.52,269.46 418.44,270.72 417.42,271.98 416.47,273.23 415.60,274.48 414.81,275.70 414.11,276.90 413.51,278.05 413.00,279.16 412.60,280.21 412.30,281.19 412.11,282.10 412.03,282.93 412.06,283.68 412.21,284.34 412.46,284.90 412.81,285.36 413.27,285.71 413.84,285.96 414.50,286.10 415.25,286.13 416.08,286.06 417.00,285.87 417.99,285.57 419.04,285.17 420.15,284.67 421.31,284.06 422.51,283.37 423.74,282.58 424.99,281.71 426.25,280.77 427.51,279.75 428.77,278.68 430.01,277.55 431.22,276.38 432.40,275.17 433.53,273.94 434.61,272.68 435.63,271.42 436.58,270.17 437.45,268.92 438.24,267.70 438.94,266.50 439.54,265.35 440.05,264.24 440.45,263.19 440.75,262.21 440.94,261.30 441.02,260.47 440.99,259.72 440.84,259.06 440.59,258.50" fill="#2368ad"/>
<text x="492.78" y="144.22" font-size="11.50" fill="#549ec9" stroke="#549ec9" stroke-width="0.22" text-anchor="middle">0.56</text>
<polygon points="472.46,159.95 471.81,159.41 471.08,158.97 470.26,158.63 469.36,158.40 468.38,158.28 467.34,158.27 466.24,158.37 465.09,158.58 463.90,158.90 462.68,159.32 461.43,159.84 460.17,160.46 458.90,161.17 457.64,161.98 456.40,162.86 455.18,163.82 454.00,164.84 452.86,165.93 451.77,167.07 450.74,168.25 449.78,169.46 448.89,170.70 448.08,171.95 447.37,173.21 446.74,174.47 446.22,175.71 445.80,176.93 445.48,178.11 445.27,179.26 445.17,180.36 445.18,181.39 445.30,182.37 445.53,183.26 445.87,184.08 446.31,184.81 446.85,185.45 447.50,185.99 448.23,186.43 449.05,186.77 449.95,187.00 450.93,187.12 451.97,187.13 453.07,187.03 454.22,186.82 455.41,186.50 456.63,186.08 457.88,185.56 459.14,184.94 460.41,184.23 461.67,183.42 462.91,182.54 464.13,181.58 465.31,180.56 466.45,179.47 467.54,178.33 468.57,177.15 469.53,175.94 470.42,174.70 471.23,173.45 471.94,172.19 472.57,170.93 473.09,169.69 473.51,168.47 473.83,167.29 474.04,166.14 474.14,165.04 474.13,164.01 474.01,163.03 473.78,162.14 473.44,161.32 473.00,160.59" fill="#549ec9"/>
<text x="525.91" y="144.22" font-size="11.50" fill="#68aacf" stroke="#68aacf" stroke-width="0.22" text-anchor="middle">0.51</text>
<polygon points="472.25,193.16 471.58,192.58 470.81,192.10 469.96,191.73 469.04,191.47 468.04,191.31 466.97,191.26 465.86,191.32 464.69,191.50 463.49,191.78 462.25,192.16 461.00,192.65 459.74,193.24 458.48,193.92 457.22,194.69 455.98,195.55 454.78,196.48 453.61,197.49 452.48,198.55 451.41,199.67 450.40,200.84 449.47,202.04 448.61,203.28 447.83,204.53 447.14,205.78 446.55,207.04 446.06,208.29 445.68,209.52 445.40,210.72 445.22,211.88 445.16,212.99 445.21,214.05 445.37,215.04 445.63,215.97 446.01,216.81 446.48,217.57 447.06,218.24 447.73,218.82 448.50,219.30 449.35,219.67 450.27,219.93 451.27,220.09 452.34,220.14 453.45,220.08 454.62,219.90 455.82,219.62 457.06,219.24 458.31,218.75 459.57,218.16 460.83,217.48 462.09,216.71 463.33,215.85 464.53,214.92 465.70,213.91 466.83,212.85 467.90,211.73 468.91,210.56 469.84,209.36 470.70,208.12 471.48,206.87 472.17,205.62 472.76,204.36 473.25,203.11 473.63,201.88 473.91,200.68 474.09,199.52 474.15,198.41 474.10,197.35 473.94,196.36 473.68,195.43 473.30,194.59 472.83,193.83" fill="#68aacf"/>
<text x="559.05" y="144.22" font-size="11.50" fill="#5ca3cb" stroke="#5ca3cb" stroke-width="0.22" text-anchor="middle">0.54</text>
<polygon points="472.37,226.03 471.72,225.48 470.97,225.02 470.14,224.67 469.23,224.43 468.24,224.29 467.19,224.27 466.09,224.35 464.93,224.54 463.73,224.85 462.51,225.25 461.26,225.76 459.99,226.37 458.73,227.07 457.47,227.86 456.23,228.73 455.02,229.68 453.84,230.70 452.70,231.78 451.62,232.91 450.60,234.08 449.65,235.29 448.77,236.53 447.98,237.78 447.28,239.04 446.67,240.29 446.15,241.54 445.75,242.76 445.44,243.95 445.25,245.11 445.16,246.21 445.19,247.26 445.33,248.24 445.57,249.15 445.92,249.97 446.38,250.72 446.94,251.37 447.59,251.92 448.34,252.38 449.17,252.73 450.08,252.97 451.07,253.11 452.12,253.13 453.22,253.05 454.38,252.86 455.58,252.55 456.80,252.15 458.05,251.64 459.32,251.03 460.58,250.33 461.84,249.54 463.08,248.67 464.29,247.72 465.47,246.70 466.61,245.62 467.69,244.49 468.71,243.32 469.66,242.11 470.54,240.87 471.33,239.62 472.03,238.36 472.64,237.11 473.16,235.86 473.56,234.64 473.87,233.45 474.06,232.29 474.15,231.19 474.12,230.14 473.98,229.16 473.74,228.25 473.39,227.43 472.93,226.68" fill="#5ca3cb"/>
<text x="592.17" y="144.22" font-size="11.50" fill="#549ec9" stroke="#549ec9" stroke-width="0.22" text-anchor="middle">0.56</text>
<polygon points="472.46,258.95 471.81,258.41 471.08,257.97 470.26,257.63 469.36,257.40 468.38,257.28 467.34,257.27 466.24,257.37 465.09,257.58 463.90,257.90 462.68,258.32 461.43,258.84 460.17,259.46 458.90,260.17 457.64,260.98 456.40,261.86 455.18,262.82 454.00,263.84 452.86,264.93 451.77,266.07 450.74,267.25 449.78,268.46 448.89,269.70 448.08,270.95 447.37,272.21 446.74,273.47 446.22,274.71 445.80,275.93 445.48,277.11 445.27,278.26 445.17,279.36 445.18,280.39 445.30,281.37 445.53,282.26 445.87,283.08 446.31,283.81 446.85,284.45 447.50,284.99 448.23,285.43 449.05,285.77 449.95,286.00 450.93,286.12 451.97,286.13 453.07,286.03 454.22,285.82 455.41,285.50 456.63,285.08 457.88,284.56 459.14,283.94 460.41,283.23 461.67,282.42 462.91,281.54 464.13,280.58 465.31,279.56 466.45,278.47 467.54,277.33 468.57,276.15 469.53,274.94 470.42,273.70 471.23,272.45 471.94,271.19 472.57,269.93 473.09,268.69 473.51,267.47 473.83,266.29 474.04,265.14 474.14,264.04 474.13,263.01 474.01,262.03 473.78,261.14 473.44,260.32 473.00,259.59" fill="#549ec9"/>
<text x="525.91" y="177.22" font-size="11.50" fill="#0c3e74" stroke="#0c3e74" stroke-width="0.22" text-anchor="middle">0.95</text>
<polygon points="507.10,191.44 506.84,191.30 506.48,191.26 506.02,191.34 505.45,191.52 504.79,191.82 504.03,192.21 503.19,192.71 502.28,193.31 501.28,194.01 500.23,194.79 499.12,195.65 497.96,196.60 496.76,197.61 495.53,198.68 494.28,199.81 493.01,200.98 491.75,202.18 490.49,203.42 489.25,204.67 488.04,205.93 486.87,207.18 485.74,208.43 484.66,209.66 483.64,210.85 482.70,212.01 481.83,213.11 481.04,214.17 480.35,215.15 479.75,216.07 479.24,216.90 478.85,217.66 478.55,218.32 478.37,218.88 478.29,219.34 478.33,219.70 478.47,219.96 478.73,220.10 479.09,220.14 479.55,220.06 480.12,219.88 480.78,219.58 481.54,219.19 482.38,218.69 483.29,218.09 484.29,217.39 485.34,216.61 486.45,215.75 487.61,214.80 488.81,213.79 490.04,212.72 491.29,211.59 492.56,210.42 493.82,209.22 495.08,207.98 496.32,206.73 497.53,205.47 498.70,204.22 499.83,202.97 500.91,201.74 501.93,200.55 502.87,199.39 503.74,198.29 504.53,197.23 505.22,196.25 505.82,195.33 506.33,194.50 506.72,193.74 507.02,193.08 507.20,192.52 507.28,192.06 507.24,191.70" fill="#0c3e74"/>
<text x="559.05" y="177.22" font-size="11.50" fill="#0c3e74" stroke="#0c3e74" stroke-width="0.22" text-anchor="middle">0.95</text>
<polygon points="507.10,224.44 506.84,224.30 506.48,224.26 506.02,224.34 505.45,224.52 504.79,224.82 504.03,225.21 503.19,225.71 502.28,226.31 501.28,227.01 500.23,227.79 499.12,228.65 497.96,229.60 496.76,230.61 495.53,231.68 494.28,232.81 493.01,233.98 491.75,235.18 490.49,236.42 489.25,237.67 488.04,238.93 486.87,240.18 485.74,241.43 484.66,242.66 483.64,243.85 482.70,245.01 481.83,246.11 481.04,247.17 480.35,248.15 479.75,249.07 479.24,249.90 478.85,250.66 478.55,251.32 478.37,251.88 478.29,252.34 478.33,252.70 478.47,252.96 478.73,253.10 479.09,253.14 479.55,253.06 480.12,252.88 480.78,252.58 481.54,252.19 482.38,251.69 483.29,251.09 484.29,250.39 485.34,249.61 486.45,248.75 487.61,247.80 488.81,246.79 490.04,245.72 491.29,244.59 492.56,243.42 493.82,242.22 495.08,240.98 496.32,239.73 497.53,238.47 498.70,237.22 499.83,235.97 500.91,234.74 501.93,233.55 502.87,232.39 503.74,231.29 504.53,230.23 505.22,229.25 505.82,228.33 506.33,227.50 506.72,226.74 507.02,226.08 507.20,225.52 507.28,225.06 507.24,224.70" fill="#0c3e74"/>
<text x="592.17" y="177.22" font-size="11.50" fill="#09386c" stroke="#09386c" stroke-width="0.22" text-anchor="middle">0.97</text>
<polygon points="507.17,257.37 506.96,257.27 506.64,257.28 506.22,257.40 505.70,257.63 505.07,257.97 504.36,258.41 503.55,258.95 502.66,259.59 501.70,260.32 500.67,261.14 499.58,262.03 498.44,263.00 497.26,264.04 496.04,265.14 494.79,266.28 493.53,267.47 492.27,268.69 491.01,269.93 489.76,271.19 488.54,272.45 487.35,273.70 486.20,274.94 485.10,276.15 484.06,277.33 483.08,278.47 482.18,279.56 481.36,280.58 480.62,281.54 479.98,282.42 479.44,283.23 479.00,283.94 478.66,284.56 478.43,285.08 478.31,285.50 478.30,285.82 478.40,286.03 478.61,286.13 478.93,286.12 479.35,286.00 479.87,285.77 480.50,285.43 481.21,284.99 482.02,284.45 482.91,283.81 483.87,283.08 484.90,282.26 485.99,281.37 487.13,280.40 488.31,279.36 489.53,278.26 490.78,277.12 492.04,275.93 493.30,274.71 494.56,273.47 495.81,272.21 497.03,270.95 498.22,269.70 499.37,268.46 500.47,267.25 501.51,266.07 502.49,264.93 503.39,263.84 504.21,262.82 504.95,261.86 505.59,260.98 506.13,260.17 506.57,259.46 506.91,258.84 507.14,258.32 507.26,257.90 507.27,257.58" fill="#09386c"/>
<text x="559.05" y="210.22" font-size="11.50" fill="#1a599a" stroke="#1a599a" stroke-width="0.22" text-anchor="middle">0.85</text>
<polygon points="539.86,224.81 539.46,224.52 538.95,224.34 538.35,224.26 537.66,224.30 536.87,224.44 536.00,224.70 535.06,225.06 534.04,225.52 532.97,226.09 531.83,226.75 530.66,227.50 529.45,228.33 528.21,229.25 526.95,230.24 525.69,231.29 524.43,232.39 523.18,233.55 521.95,234.75 520.75,235.97 519.59,237.22 518.47,238.47 517.42,239.73 516.43,240.98 515.51,242.22 514.67,243.43 513.91,244.60 513.25,245.72 512.68,246.80 512.22,247.81 511.86,248.75 511.60,249.61 511.46,250.40 511.42,251.09 511.50,251.69 511.68,252.19 511.97,252.59 512.37,252.88 512.88,253.06 513.48,253.14 514.17,253.10 514.96,252.96 515.83,252.70 516.77,252.34 517.79,251.88 518.86,251.31 520.00,250.65 521.17,249.90 522.38,249.07 523.62,248.15 524.88,247.16 526.14,246.11 527.40,245.01 528.65,243.85 529.88,242.65 531.08,241.43 532.24,240.18 533.36,238.93 534.41,237.67 535.40,236.42 536.32,235.18 537.16,233.97 537.92,232.80 538.58,231.68 539.15,230.60 539.61,229.59 539.97,228.65 540.23,227.79 540.37,227.00 540.41,226.31 540.33,225.71 540.15,225.21" fill="#1a599a"/>
<text x="592.17" y="210.22" font-size="11.50" fill="#16518e" stroke="#16518e" stroke-width="0.22" text-anchor="middle">0.88</text>
<polygon points="539.97,257.70 539.60,257.45 539.14,257.30 538.57,257.26 537.91,257.34 537.15,257.52 536.31,257.81 535.39,258.21 534.40,258.70 533.34,259.30 532.23,259.99 531.07,260.77 529.87,261.64 528.64,262.58 527.39,263.59 526.12,264.66 524.86,265.79 523.60,266.96 522.36,268.16 521.15,269.40 519.98,270.65 518.85,271.91 517.77,273.16 516.76,274.41 515.81,275.64 514.95,276.83 514.16,277.99 513.47,279.10 512.87,280.15 512.37,281.14 511.97,282.05 511.68,282.89 511.50,283.64 511.42,284.31 511.46,284.87 511.61,285.34 511.86,285.70 512.23,285.95 512.69,286.10 513.26,286.14 513.92,286.06 514.68,285.88 515.52,285.59 516.44,285.19 517.43,284.70 518.49,284.10 519.60,283.41 520.76,282.63 521.96,281.76 523.19,280.82 524.44,279.81 525.71,278.74 526.97,277.61 528.23,276.44 529.47,275.24 530.68,274.00 531.85,272.75 532.98,271.49 534.06,270.24 535.07,268.99 536.02,267.76 536.88,266.57 537.67,265.41 538.36,264.30 538.96,263.25 539.46,262.26 539.86,261.35 540.15,260.51 540.33,259.76 540.41,259.09 540.37,258.53 540.22,258.06" fill="#16518e"/>
<text x="592.17" y="243.22" font-size="11.50" fill="#134b87" stroke="#134b87" stroke-width="0.22" text-anchor="middle">0.90</text>
<polygon points="573.17,257.63 572.84,257.40 572.39,257.28 571.85,257.27 571.21,257.37 570.48,257.58 569.66,257.90 568.76,258.32 567.78,258.85 566.74,259.47 565.64,260.18 564.49,260.98 563.30,261.87 562.08,262.83 560.83,263.85 559.57,264.94 558.31,266.08 557.05,267.26 555.80,268.47 554.59,269.71 553.40,270.96 552.26,272.22 551.17,273.48 550.14,274.72 549.17,275.94 548.29,277.13 547.48,278.27 546.76,279.37 546.14,280.40 545.61,281.38 545.19,282.27 544.87,283.09 544.66,283.82 544.56,284.46 544.57,285.00 544.69,285.44 544.92,285.77 545.25,286.00 545.70,286.12 546.24,286.13 546.88,286.03 547.61,285.82 548.43,285.50 549.33,285.08 550.31,284.55 551.35,283.93 552.45,283.22 553.60,282.42 554.79,281.53 556.01,280.57 557.26,279.55 558.52,278.46 559.78,277.32 561.04,276.14 562.29,274.93 563.50,273.69 564.69,272.44 565.83,271.18 566.92,269.92 567.95,268.68 568.92,267.46 569.80,266.27 570.61,265.13 571.33,264.03 571.95,263.00 572.48,262.02 572.90,261.13 573.22,260.31 573.43,259.58 573.53,258.94 573.52,258.40 573.40,257.96" fill="#134b87"/>
<defs><linearGradient id="g1" x1="0" y1="0" x2="0" y2="1"><stop offset="0.0000" stop-color="#053061"/><stop offset="0.0050" stop-color="#063365"/><stop offset="0.0101" stop-color="#083569"/><stop offset="0.0151" stop-color="#09386c"/><stop offset="0.0201" stop-color="#0b3b70"/><stop offset="0.0251" stop-color="#0c3e74"/><stop offset="0.0302" stop-color="#0d4078"/><stop offset="0.0352" stop-color="#0f437b"/><stop offset="0.0402" stop-color="#10467f"/><stop offset="0.0452" stop-color="#124883"/><stop offset="0.0503" stop-color="#134b87"/><stop offset="0.0553" stop-color="#144e8a"/><stop offset="0.0603" stop-color="#16518e"/><stop offset="0.0653" stop-color="#175392"/><stop offset="0.0704" stop-color="#195696"/><stop offset="0.0754" stop-color="#1a599a"/><stop offset="0.0804" stop-color="#1c5b9d"/><stop offset="0.0854" stop-color="#1d5ea1"/><stop offset="0.0905" stop-color="#1e61a5"/><stop offset="0.0955" stop-color="#2064a9"/><stop offset="0.1005" stop-color="#2166ac"/><stop offset="0.1055" stop-color="#2368ad"/><stop offset="0.1106" stop-color="#256bae"/><stop offset="0.1156" stop-color="#266db0"/><stop offset="0.1206" stop-color="#286fb1"/><stop offset="0.1256" stop-color="#2a72b2"/><stop offset="0.1307" stop-color="#2b74b3"/><stop offset="0.1357" stop-color="#2d76b4"/><stop offset="0.1407" stop-color="#2f78b5"/><stop offset="0.1457" stop-color="#317bb7"/><stop offset="0.1508" stop-color="#327db8"/><stop offset="0.1558" stop-color="#347fb9"/><stop offset="0.1608" stop-color="#3681ba"/><stop offset="0.1658" stop-color="#3784bb"/><stop offset="0.1709" stop-color="#3986bc"/><stop offset="0.1759" stop-color="#3b88bd"/><stop offset="0.1809" stop-color="#3d8abf"/><stop offset="0.1859" stop-color="#3e8dc0"/><stop offset="0.1910" stop-color="#408fc1"/><stop offset="0.1960" stop-color="#4291c2"/><stop offset="0.2010" stop-color="#4494c3"/><stop offset="0.2060" stop-color="#4896c5"/><stop offset="0.2111" stop-color="#4c99c6"/><stop offset="0.2161" stop-color="#509bc7"/><stop offset="0.2211" stop-color="#549ec9"/><stop offset="0.2261" stop-color="#58a0ca"/><stop offset="0.2312" stop-color="#5ca3cb"/><stop offset="0.2362" stop-color="#60a5cd"/><stop offset="0.2412" stop-color="#64a8ce"/><stop offset="0.2462" stop-color="#68aacf"/><stop offset="0.2513" stop-color="#6badd1"/><stop offset="0.2563" stop-color="#6fafd2"/><stop offset="0.2613" stop-color="#73b2d4"/><stop offset="0.2663" stop-color="#77b4d5"/><stop offset="0.2714" stop-color="#7bb7d6"/><stop offset="0.2764" stop-color="#7fb9d8"/><stop offset="0.2814" stop-color="#83bcd9"/><stop offset="0.2864" stop-color="#87beda"/><stop offset="0.2915" stop-color="#8bc1dc"/><stop offset="0.2965" stop-color="#8fc3dd"/><stop offset="0.3015" stop-color="#93c5de"/><stop offset="0.3065" stop-color="#96c7df"/><stop offset="0.3116" stop-color="#99c9e0"/><stop offset="0.3166" stop-color="#9ccae1"/><stop offset="0.3216" stop-color="#a0cce2"/><stop offset="0.3266" stop-color="#a3cee3"/><stop offset="0.3317" stop-color="#a6cfe4"/><stop offset="0.3367" stop-color="#a9d1e5"/><stop offset="0.3417" stop-color="#acd2e6"/><stop offset="0.3467" stop-color="#afd4e6"/><stop offset="0.3518" stop-color="#b3d6e7"/><stop offset="0.3568" stop-color="#b6d7e8"/><stop offset="0.3618" stop-color="#b9d9e9"/><stop offset="0.3668" stop-color="#bcdaea"/><stop offset="0.3719" stop-color="#bfdceb"/><stop offset="0.3769" stop-color="#c2deec"/><stop offset="0.3819" stop-color="#c6dfed"/><stop offset="0.3869" stop-color="#c9e1ee"/><stop offset="0.3920" stop-color="#cce2ef"/><stop offset="0.3970" stop-color="#cfe4ef"/><stop offset="0.4020" stop-color="#d2e6f0"/><stop offset="0.4070" stop-color="#d4e7f1"/><stop offset="0.4121" stop-color="#d7e8f2"/><stop offset="0.4171" stop-color="#d9e9f3"/><stop offset="0.4221" stop-color="#dbebf3"/><stop offset="0.4271" stop-color="#ddecf4"/><stop offset="0.4322" stop-color="#e0edf5"/><stop offset="0.4372" stop-color="#e2eff6"/><stop offset="0.4422" stop-color="#e4f0f6"/><stop offset="0.4472" stop-color="#e7f1f7"/><stop offset="0.4523" stop-color="#e9f3f8"/><stop offset="0.4573" stop-color="#ebf4f9"/><stop offset="0.4623" stop-color="#eef5f9"/><stop offset="0.4673" stop-color="#f0f7fa"/><stop offset="0.4724" stop-color="#f2f8fb"/><stop offset="0.4774" stop-color="#f5f9fc"/><stop offset="0.4824" stop-color="#f7fafc"/><stop offset="0.4874" stop-color="#f9fcfd"/><stop offset="0.4925" stop-color="#fcfdfe"/><stop offset="0.4975" stop-color="#fefeff"/><stop offset="0.5025" stop-color="#fffefe"/><stop offset="0.5075" stop-color="#fffcfb"/><stop offset="0.5126" stop-color="#fffaf8"/><stop offset="0.5176" stop-color="#fff9f5"/><stop offset="0.5226" stop-color="#fff7f2"/><stop offset="0.5276" stop-color="#fef5f0"/><stop offset="0.5327" stop-color="#fef3ed"/><stop offset="0.5377" stop-color="#fef1ea"/><stop offset="0.5427" stop-color="#fef0e7"/><stop offset="0.5477" stop-color="#feeee4"/><stop offset="0.5528" stop-color="#feece1"/><stop offset="0.5578" stop-color="#feeadf"/><stop offset="0.5628" stop-color="#fee8dc"/><stop offset="0.5678" stop-color="#fee7d9"/><stop offset="0.5729" stop-color="#fee5d6"/><stop offset="0.5779" stop-color="#fde3d3"/><stop offset="0.5829" stop-color="#fde1d1"/><stop offset="0.5879" stop-color="#fddfce"/><stop offset="0.5930" stop-color="#fddecb"/><stop offset="0.5980" stop-color="#fddcc8"/><stop offset="0.6030" stop-color="#fdd9c5"/><stop offset="0.6080" stop-color="#fcd7c1"/><stop offset="0.6131" stop-color="#fcd4be"/><stop offset="0.6181" stop-color="#fbd1bb"/><stop offset="0.6231" stop-color="#fbcfb7"/><stop offset="0.6281" stop-color="#faccb4"/><stop offset="0.6332" stop-color="#fac9b0"/><stop offset="0.6382" stop-color="#fac6ad"/><stop offset="0.6432" stop-color="#f9c4a9"/><stop offset="0.6482" stop-color="#f9c1a6"/><stop offset="0.6533" stop-color="#f8bea2"/><stop offset="0.6583" stop-color="#f8bc9f"/><stop offset="0.6633" stop-color="#f7b99b"/><stop offset="0.6683" stop-color="#f7b698"/><stop offset="0.6734" stop-color="#f6b394"/><stop offset="0.6784" stop-color="#f6b191"/><stop offset="0.6834" stop-color="#f5ae8d"/><stop offset="0.6884" stop-color="#f5ab8a"/><stop offset="0.6935" stop-color="#f5a987"/><stop offset="0.6985" stop-color="#f4a683"/><stop offset="0.7035" stop-color="#f3a380"/><stop offset="0.7085" stop-color="#f19f7d"/><stop offset="0.7136" stop-color="#f09c7b"/><stop offset="0.7186" stop-color="#ee9878"/><stop offset="0.7236" stop-color="#ed9575"/><stop offset="0.7286" stop-color="#eb9173"/><stop offset="0.7337" stop-color="#ea8e70"/><stop offset="0.7387" stop-color="#e88a6d"/><stop offset="0.7437" stop-color="#e7876b"/><stop offset="0.7487" stop-color="#e58368"/><stop offset="0.7538" stop-color="#e48066"/><stop offset="0.7588" stop-color="#e27c63"/><stop offset="0.7638" stop-color="#e17960"/><stop offset="0.7688" stop-color="#df755e"/><stop offset="0.7739" stop-color="#de725b"/><stop offset="0.7789" stop-color="#dc6f58"/><stop offset="0.7839" stop-color="#db6b56"/><stop offset="0.7889" stop-color="#d96853"/><stop offset="0.7940" stop-color="#d86450"/><stop offset="0.7990" stop-color="#d6614e"/><stop offset="0.8040" stop-color="#d55d4c"/><stop offset="0.8090" stop-color="#d3594a"/><stop offset="0.8141" stop-color="#d15648"/><stop offset="0.8191" stop-color="#cf5247"/><stop offset="0.8241" stop-color="#cd4f45"/><stop offset="0.8291" stop-color="#cc4b43"/><stop offset="0.8342" stop-color="#ca4741"/><stop offset="0.8392" stop-color="#c84440"/><stop offset="0.8442" stop-color="#c6403e"/><stop offset="0.8492" stop-color="#c43d3c"/><stop offset="0.8543" stop-color="#c2393b"/><stop offset="0.8593" stop-color="#c13539"/><stop offset="0.8643" stop-color="#bf3237"/><stop offset="0.8693" stop-color="#bd2e35"/><stop offset="0.8744" stop-color="#bb2a34"/><stop offset="0.8794" stop-color="#b92732"/><stop offset="0.8844" stop-color="#b82330"/><stop offset="0.8894" stop-color="#b6202f"/><stop offset="0.8945" stop-color="#b41c2d"/><stop offset="0.8995" stop-color="#b2182b"/><stop offset="0.9045" stop-color="#af172a"/><stop offset="0.9095" stop-color="#ab162a"/><stop offset="0.9146" stop-color="#a71529"/><stop offset="0.9196" stop-color="#a31329"/><stop offset="0.9246" stop-color="#a01228"/><stop offset="0.9296" stop-color="#9c1127"/><stop offset="0.9347" stop-color="#981027"/><stop offset="0.9397" stop-color="#940e26"/><stop offset="0.9447" stop-color="#900d26"/><stop offset="0.9497" stop-color="#8d0c25"/><stop offset="0.9548" stop-color="#890b24"/><stop offset="0.9598" stop-color="#850a24"/><stop offset="0.9648" stop-color="#810823"/><stop offset="0.9698" stop-color="#7e0723"/><stop offset="0.9749" stop-color="#7a0622"/><stop offset="0.9799" stop-color="#760521"/><stop offset="0.9849" stop-color="#720421"/><stop offset="0.9899" stop-color="#6f0220"/><stop offset="0.9950" stop-color="#6b0120"/><stop offset="1.0000" stop-color="#67001f"/></linearGradient></defs>
<rect x="619.80" y="50.50" width="23.00" height="227.90" fill="url(#g1)" stroke="#111" stroke-width="1.2"/>
<text x="648.90" y="54.45" font-size="8.80" fill="#111">1.0</text>
<path d="M619.80 107.47h4M642.80 107.47h-4" stroke="#333" stroke-opacity="0.6" stroke-width="0.8"/>
<text x="648.90" y="111.43" font-size="8.80" fill="#111">0.5</text>
<path d="M619.80 164.45h4M642.80 164.45h-4" stroke="#333" stroke-opacity="0.6" stroke-width="0.8"/>
<text x="648.90" y="168.40" font-size="8.80" fill="#111">0.0</text>
<path d="M619.80 221.43h4M642.80 221.43h-4" stroke="#333" stroke-opacity="0.6" stroke-width="0.8"/>
<text x="648.70" y="225.38" font-size="8.80" fill="#111">-0.5</text>
<text x="648.70" y="282.35" font-size="8.80" fill="#111">-1.0</text>
</g>
</svg></body></html>
